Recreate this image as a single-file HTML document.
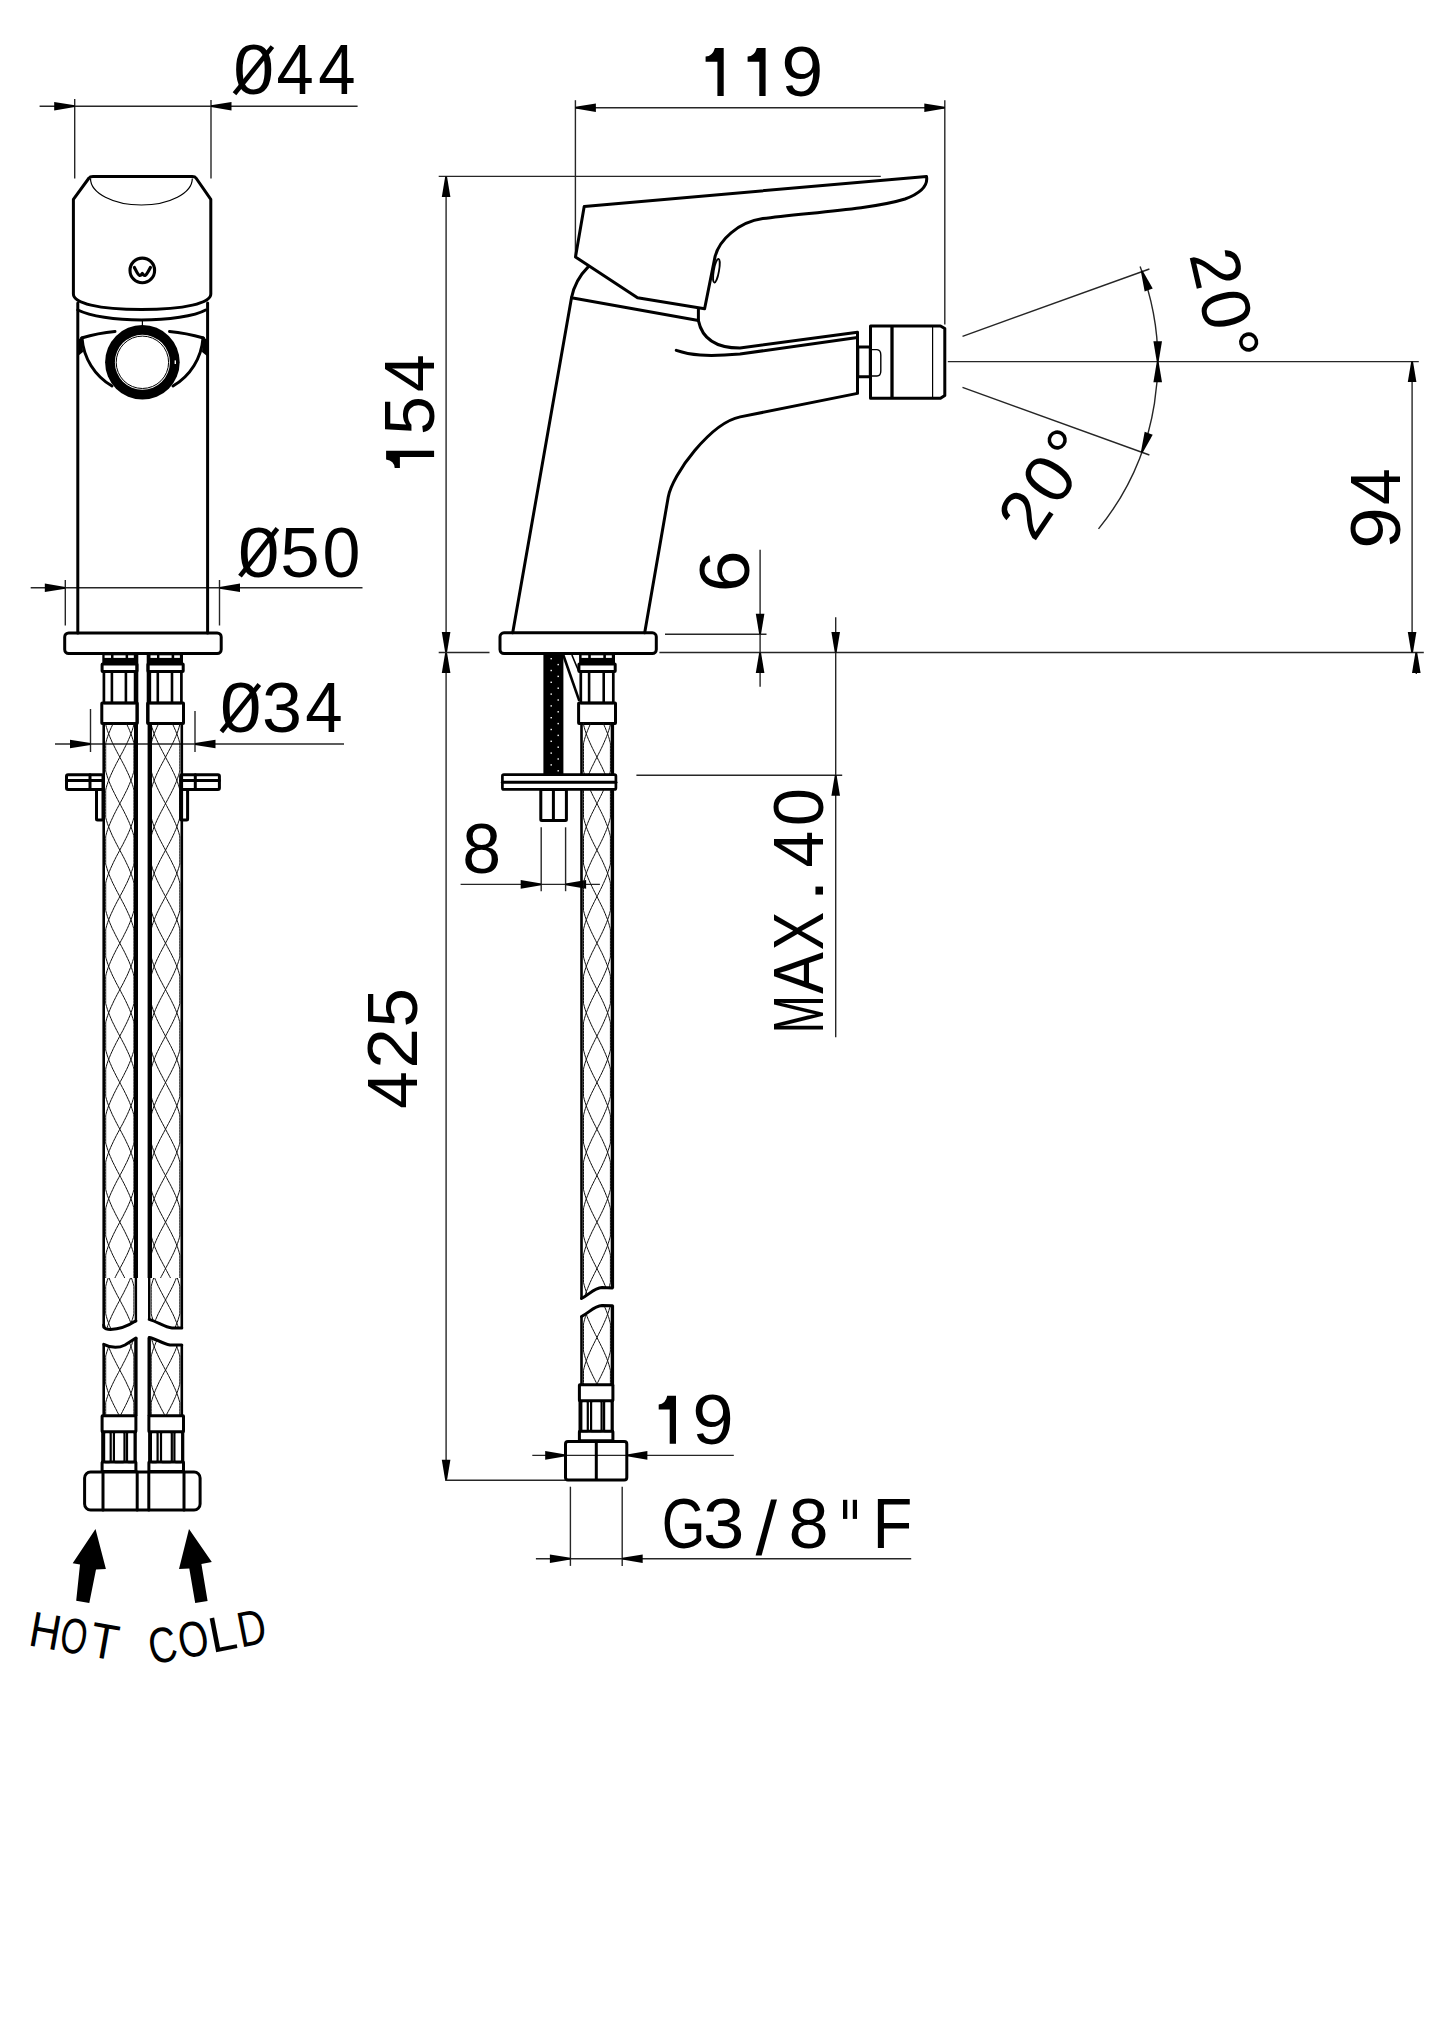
<!DOCTYPE html>
<html><head><meta charset="utf-8"><style>html,body{margin:0;padding:0;background:#fff;}svg{display:block;}</style></head>
<body><svg width="1445" height="2043" viewBox="0 0 1445 2043" style="font-family:'Liberation Sans',sans-serif">
<rect width="1445" height="2043" fill="#fff"/>
<line x1="74.7" y1="99.0" x2="74.7" y2="178.5" stroke="#262626" stroke-width="1.4" fill="none"/>
<line x1="211.0" y1="100.0" x2="211.0" y2="178.5" stroke="#262626" stroke-width="1.4" fill="none"/>
<line x1="39.6" y1="106.2" x2="357.6" y2="106.2" stroke="#262626" stroke-width="1.4" fill="none"/>
<path d="M74.70,107.10 L74.70,105.30 L54.20,101.90 L54.20,110.50 Z" fill="#000"/>
<path d="M211.00,105.30 L211.00,107.10 L231.50,110.50 L231.50,101.90 Z" fill="#000"/>
<line x1="65.3" y1="580.0" x2="65.3" y2="625.5" stroke="#262626" stroke-width="1.4" fill="none"/>
<line x1="219.5" y1="580.0" x2="219.5" y2="625.5" stroke="#262626" stroke-width="1.4" fill="none"/>
<line x1="30.7" y1="587.8" x2="362.5" y2="587.8" stroke="#262626" stroke-width="1.4" fill="none"/>
<path d="M65.30,588.70 L65.30,586.90 L44.80,583.50 L44.80,592.10 Z" fill="#000"/>
<path d="M219.50,586.90 L219.50,588.70 L240.00,592.10 L240.00,583.50 Z" fill="#000"/>
<line x1="90.5" y1="709.0" x2="90.5" y2="752.0" stroke="#262626" stroke-width="1.4" fill="none"/>
<line x1="195.0" y1="711.0" x2="195.0" y2="752.0" stroke="#262626" stroke-width="1.4" fill="none"/>
<line x1="55.0" y1="744.0" x2="344.0" y2="744.0" stroke="#262626" stroke-width="1.4" fill="none"/>
<path d="M90.50,744.90 L90.50,743.10 L70.00,739.70 L70.00,748.30 Z" fill="#000"/>
<path d="M195.00,743.10 L195.00,744.90 L215.50,748.30 L215.50,739.70 Z" fill="#000"/>
<path d="M93,176.5 L192.3,176.5 Q195,176.5 196,178 L210.8,199.4 L210.8,294 C210.8,303 185,309.5 141.4,309.5 C98,309.5 73.4,303 73.4,294 L73.4,199.4 L89,178 Q90,176.5 93,176.5 Z" stroke="#000" stroke-width="3.0" fill="none" stroke-linejoin="round" stroke-linecap="round"/>
<path d="M90.5,178.5 A50.9 26.5 0 0 0 192.3,178.5" stroke="#000" stroke-width="1.2" fill="none"/>
<circle cx="142.3" cy="270.4" r="12.3" stroke="#000" stroke-width="3.1" fill="none"/>
<path d="M134.4,267.4 C136,270.5 137.8,274.8 139.6,275.4 C141,275.8 141.8,274 142.3,273.4 C142.8,274 143.6,275.8 145,275.4 C146.8,274.8 148.8,270.5 150.4,267.4" stroke="#000" stroke-width="3.2" fill="none" stroke-linecap="round" stroke-linejoin="round"/>
<path d="M77.8,310 C90,316 115,320 141.4,320 C168,320 195,316 205.7,310" stroke="#000" stroke-width="3.0" fill="none" stroke-linejoin="round" stroke-linecap="round"/>
<line x1="77.8" y1="303.0" x2="77.8" y2="633.0" stroke="#000" stroke-width="3.0" fill="none" stroke-linejoin="round" stroke-linecap="round"/>
<line x1="207.6" y1="303.0" x2="207.6" y2="633.0" stroke="#000" stroke-width="3.0" fill="none" stroke-linejoin="round" stroke-linecap="round"/>
<path d="M81.6,338 Q98,333 115,331.5" stroke="#000" stroke-width="3.0" fill="none" stroke-linejoin="round" stroke-linecap="round"/>
<path d="M169.5,331.5 Q186,333 203.5,338" stroke="#000" stroke-width="3.0" fill="none" stroke-linejoin="round" stroke-linecap="round"/>
<path d="M82,338 A60.8 60.8 0 0 0 112,386" stroke="#000" stroke-width="3.0" fill="none" stroke-linejoin="round" stroke-linecap="round"/>
<path d="M203,338 A60.8 60.8 0 0 1 173,386" stroke="#000" stroke-width="3.0" fill="none" stroke-linejoin="round" stroke-linecap="round"/>
<path d="M78,339 L82,338 L83,352 L78,356 Z" fill="#000"/>
<path d="M207,339 L203,338 L202,352 L207,356 Z" fill="#000"/>
<circle cx="142.4" cy="362.3" r="37.3" fill="#000"/>
<circle cx="142.4" cy="362.3" r="27.5" fill="#fff"/>
<circle cx="142.4" cy="362.3" r="26.2" stroke="#000" stroke-width="1" fill="none"/>
<rect x="174.6" y="360.4" width="1.4" height="3.6" fill="#fff"/>
<line x1="142.4" y1="320.0" x2="142.4" y2="326.0" stroke="#000" stroke-width="1.2" fill="none"/>
<rect x="64.7" y="632.9" width="156.5" height="20.6" rx="4" stroke="#000" stroke-width="3.0" fill="none" stroke-linejoin="round" stroke-linecap="round"/>
<rect x="102.3" y="654.5" width="34.5" height="10" fill="#000"/>
<rect x="104.6" y="655.3" width="6.4" height="2.6" fill="#fff"/>
<rect x="113.5" y="655.3" width="12.1" height="2.6" fill="#fff"/>
<rect x="128.1" y="655.3" width="5.7" height="2.6" fill="#fff"/>
<rect x="102.1" y="664.0" width="34.9" height="7.5" rx="0.5" stroke="#000" stroke-width="3.0" fill="none" stroke-linejoin="round" stroke-linecap="round"/>
<rect x="103.9" y="671.7" width="31.2" height="31.3" rx="1.5" stroke="#000" stroke-width="2.7" fill="none"/>
<line x1="111.9" y1="671.7" x2="111.9" y2="703.0" stroke="#000" stroke-width="2.6"/>
<line x1="125.9" y1="671.7" x2="125.9" y2="703.0" stroke="#000" stroke-width="2.6"/>
<rect x="101.8" y="703.0" width="35.5" height="20.5" rx="0.5" stroke="#000" stroke-width="3.0" fill="none" stroke-linejoin="round" stroke-linecap="round"/>
<rect x="148.1" y="654.5" width="34.9" height="10" fill="#000"/>
<rect x="150.5" y="655.3" width="6.5" height="2.6" fill="#fff"/>
<rect x="159.4" y="655.3" width="12.2" height="2.6" fill="#fff"/>
<rect x="174.2" y="655.3" width="5.7" height="2.6" fill="#fff"/>
<rect x="147.9" y="664.0" width="35.3" height="7.5" rx="0.5" stroke="#000" stroke-width="3.0" fill="none" stroke-linejoin="round" stroke-linecap="round"/>
<rect x="149.8" y="671.7" width="31.6" height="31.3" rx="1.5" stroke="#000" stroke-width="2.7" fill="none"/>
<line x1="157.8" y1="671.7" x2="157.8" y2="703.0" stroke="#000" stroke-width="2.6"/>
<line x1="172.0" y1="671.7" x2="172.0" y2="703.0" stroke="#000" stroke-width="2.6"/>
<rect x="147.6" y="703.0" width="35.9" height="20.5" rx="0.5" stroke="#000" stroke-width="3.0" fill="none" stroke-linejoin="round" stroke-linecap="round"/>
<line x1="136.9" y1="655.0" x2="136.9" y2="723.5" stroke="#000" stroke-width="2.8"/>
<line x1="148.1" y1="655.0" x2="148.1" y2="723.5" stroke="#000" stroke-width="2.8"/>
<clipPath id="hcA"><path d="M100,720 L140,720 L140,1320.8 C128,1326 118,1330 108,1329.3 Q100,1329 100,1325 Z"/></clipPath>
<clipPath id="hcB"><path d="M146,720 L186,720 L186,1328 L172,1328 C165,1327.5 158,1322 146,1319.4 Z"/></clipPath>
<clipPath id="hcC"><path d="M100,1344.3 C110,1347.5 118,1348.5 125,1345 L140,1336 L140,1420 L100,1420 Z"/></clipPath>
<clipPath id="hcD"><path d="M146,1337.4 C155,1338 162,1344 170,1345 L186,1345 L186,1420 L146,1420 Z"/></clipPath>
<g clip-path="url(#hcA)">
<clipPath id="bk103_723"><rect x="98.7" y="723.5" width="42.2" height="554.5"/></clipPath>
<g clip-path="url(#bk103_723)">
<polyline points="105.7,721.5 105.7,723.0 105.7,724.5 106.1,726.0 106.5,727.5 107.0,729.0 107.4,730.5 108.0,732.0 108.5,733.5 109.1,735.0 109.7,736.5 110.3,738.0 111.0,739.5 111.6,741.0 112.3,742.5 113.0,744.0 113.8,745.5 114.5,747.0 115.3,748.5 116.0,750.0 116.8,751.5 117.6,753.0 118.4,754.5 119.2,756.0 120.0,757.5 120.8,759.0 121.6,760.5 122.4,762.0 123.2,763.5 124.0,765.0 124.7,766.5 125.5,768.0 126.2,769.5 126.9,771.0 127.6,772.5 128.3,774.0 129.0,775.5 129.6,777.0 130.2,778.5 130.8,780.0 131.4,781.5 131.9,783.0 132.4,784.5 132.9,786.0 133.3,787.5 133.7,789.0 133.9,790.5 133.9,792.0 133.9,793.5 133.9,795.0 133.9,796.5 133.9,798.0 133.9,799.5 133.9,801.0 133.9,802.5 133.9,804.0 133.9,805.5 133.9,807.0 133.9,808.5 133.9,810.0 133.9,811.5 133.9,813.0 133.9,814.5 133.9,816.0 133.9,817.5 133.5,819.0 133.1,820.5 132.6,822.0 132.2,823.5 131.6,825.0 131.1,826.5 130.5,828.0 129.9,829.5 129.3,831.0 128.6,832.5 128.0,834.0 127.3,835.5 126.6,837.0 125.8,838.5 125.1,840.0 124.3,841.5 123.6,843.0 122.8,844.5 122.0,846.0 121.2,847.5 120.4,849.0 119.6,850.5 118.8,852.0 118.0,853.5 117.2,855.0 116.4,856.5 115.6,858.0 114.9,859.5 114.1,861.0 113.4,862.5 112.7,864.0 112.0,865.5 111.3,867.0 110.6,868.5 110.0,870.0 109.4,871.5 108.8,873.0 108.2,874.5 107.7,876.0 107.2,877.5 106.7,879.0 106.3,880.5 105.9,882.0 105.7,883.5 105.7,885.0 105.7,886.5 105.7,888.0 105.7,889.5 105.7,891.0 105.7,892.5 105.7,894.0 105.7,895.5 105.7,897.0 105.7,898.5 105.7,900.0 105.7,901.5 105.7,903.0 105.7,904.5 105.7,906.0 105.7,907.5 105.7,909.0 105.7,910.5 106.1,912.0 106.5,913.5 107.0,915.0 107.4,916.5 108.0,918.0 108.5,919.5 109.1,921.0 109.7,922.5 110.3,924.0 111.0,925.5 111.6,927.0 112.3,928.5 113.0,930.0 113.8,931.5 114.5,933.0 115.3,934.5 116.0,936.0 116.8,937.5 117.6,939.0 118.4,940.5 119.2,942.0 120.0,943.5 120.8,945.0 121.6,946.5 122.4,948.0 123.2,949.5 124.0,951.0 124.7,952.5 125.5,954.0 126.2,955.5 126.9,957.0 127.6,958.5 128.3,960.0 129.0,961.5 129.6,963.0 130.2,964.5 130.8,966.0 131.4,967.5 131.9,969.0 132.4,970.5 132.9,972.0 133.3,973.5 133.7,975.0 133.9,976.5 133.9,978.0 133.9,979.5 133.9,981.0 133.9,982.5 133.9,984.0 133.9,985.5 133.9,987.0 133.9,988.5 133.9,990.0 133.9,991.5 133.9,993.0 133.9,994.5 133.9,996.0 133.9,997.5 133.9,999.0 133.9,1000.5 133.9,1002.0 133.9,1003.5 133.5,1005.0 133.1,1006.5 132.6,1008.0 132.2,1009.5 131.6,1011.0 131.1,1012.5 130.5,1014.0 129.9,1015.5 129.3,1017.0 128.6,1018.5 128.0,1020.0 127.3,1021.5 126.6,1023.0 125.8,1024.5 125.1,1026.0 124.3,1027.5 123.6,1029.0 122.8,1030.5 122.0,1032.0 121.2,1033.5 120.4,1035.0 119.6,1036.5 118.8,1038.0 118.0,1039.5 117.2,1041.0 116.4,1042.5 115.6,1044.0 114.9,1045.5 114.1,1047.0 113.4,1048.5 112.7,1050.0 112.0,1051.5 111.3,1053.0 110.6,1054.5 110.0,1056.0 109.4,1057.5 108.8,1059.0 108.2,1060.5 107.7,1062.0 107.2,1063.5 106.7,1065.0 106.3,1066.5 105.9,1068.0 105.7,1069.5 105.7,1071.0 105.7,1072.5 105.7,1074.0 105.7,1075.5 105.7,1077.0 105.7,1078.5 105.7,1080.0 105.7,1081.5 105.7,1083.0 105.7,1084.5 105.7,1086.0 105.7,1087.5 105.7,1089.0 105.7,1090.5 105.7,1092.0 105.7,1093.5 105.7,1095.0 105.7,1096.5 106.1,1098.0 106.5,1099.5 107.0,1101.0 107.4,1102.5 108.0,1104.0 108.5,1105.5 109.1,1107.0 109.7,1108.5 110.3,1110.0 111.0,1111.5 111.6,1113.0 112.3,1114.5 113.0,1116.0 113.8,1117.5 114.5,1119.0 115.3,1120.5 116.0,1122.0 116.8,1123.5 117.6,1125.0 118.4,1126.5 119.2,1128.0 120.0,1129.5 120.8,1131.0 121.6,1132.5 122.4,1134.0 123.2,1135.5 124.0,1137.0 124.7,1138.5 125.5,1140.0 126.2,1141.5 126.9,1143.0 127.6,1144.5 128.3,1146.0 129.0,1147.5 129.6,1149.0 130.2,1150.5 130.8,1152.0 131.4,1153.5 131.9,1155.0 132.4,1156.5 132.9,1158.0 133.3,1159.5 133.7,1161.0 133.9,1162.5 133.9,1164.0 133.9,1165.5 133.9,1167.0 133.9,1168.5 133.9,1170.0 133.9,1171.5 133.9,1173.0 133.9,1174.5 133.9,1176.0 133.9,1177.5 133.9,1179.0 133.9,1180.5 133.9,1182.0 133.9,1183.5 133.9,1185.0 133.9,1186.5 133.9,1188.0 133.9,1189.5 133.5,1191.0 133.1,1192.5 132.6,1194.0 132.2,1195.5 131.6,1197.0 131.1,1198.5 130.5,1200.0 129.9,1201.5 129.3,1203.0 128.6,1204.5 128.0,1206.0 127.3,1207.5 126.6,1209.0 125.8,1210.5 125.1,1212.0 124.3,1213.5 123.6,1215.0 122.8,1216.5 122.0,1218.0 121.2,1219.5 120.4,1221.0 119.6,1222.5 118.8,1224.0 118.0,1225.5 117.2,1227.0 116.4,1228.5 115.6,1230.0 114.9,1231.5 114.1,1233.0 113.4,1234.5 112.7,1236.0 112.0,1237.5 111.3,1239.0 110.6,1240.5 110.0,1242.0 109.4,1243.5 108.8,1245.0 108.2,1246.5 107.7,1248.0 107.2,1249.5 106.7,1251.0 106.3,1252.5 105.9,1254.0 105.7,1255.5 105.7,1257.0 105.7,1258.5 105.7,1260.0 105.7,1261.5 105.7,1263.0 105.7,1264.5 105.7,1266.0 105.7,1267.5 105.7,1269.0 105.7,1270.5 105.7,1272.0 105.7,1273.5 105.7,1275.0 105.7,1276.5 105.7,1278.0 105.7,1279.5" stroke="#111" stroke-width="1.0" fill="none"/>
<polyline points="125.5,721.5 126.2,723.0 126.9,724.5 127.6,726.0 128.3,727.5 129.0,729.0 129.6,730.5 130.2,732.0 130.8,733.5 131.4,735.0 131.9,736.5 132.4,738.0 132.9,739.5 133.3,741.0 133.7,742.5 133.9,744.0 133.9,745.5 133.9,747.0 133.9,748.5 133.9,750.0 133.9,751.5 133.9,753.0 133.9,754.5 133.9,756.0 133.9,757.5 133.9,759.0 133.9,760.5 133.9,762.0 133.9,763.5 133.9,765.0 133.9,766.5 133.9,768.0 133.9,769.5 133.9,771.0 133.5,772.5 133.1,774.0 132.6,775.5 132.2,777.0 131.6,778.5 131.1,780.0 130.5,781.5 129.9,783.0 129.3,784.5 128.6,786.0 128.0,787.5 127.3,789.0 126.6,790.5 125.8,792.0 125.1,793.5 124.3,795.0 123.6,796.5 122.8,798.0 122.0,799.5 121.2,801.0 120.4,802.5 119.6,804.0 118.8,805.5 118.0,807.0 117.2,808.5 116.4,810.0 115.6,811.5 114.9,813.0 114.1,814.5 113.4,816.0 112.7,817.5 112.0,819.0 111.3,820.5 110.6,822.0 110.0,823.5 109.4,825.0 108.8,826.5 108.2,828.0 107.7,829.5 107.2,831.0 106.7,832.5 106.3,834.0 105.9,835.5 105.7,837.0 105.7,838.5 105.7,840.0 105.7,841.5 105.7,843.0 105.7,844.5 105.7,846.0 105.7,847.5 105.7,849.0 105.7,850.5 105.7,852.0 105.7,853.5 105.7,855.0 105.7,856.5 105.7,858.0 105.7,859.5 105.7,861.0 105.7,862.5 105.7,864.0 106.1,865.5 106.5,867.0 107.0,868.5 107.4,870.0 108.0,871.5 108.5,873.0 109.1,874.5 109.7,876.0 110.3,877.5 111.0,879.0 111.6,880.5 112.3,882.0 113.0,883.5 113.8,885.0 114.5,886.5 115.3,888.0 116.0,889.5 116.8,891.0 117.6,892.5 118.4,894.0 119.2,895.5 120.0,897.0 120.8,898.5 121.6,900.0 122.4,901.5 123.2,903.0 124.0,904.5 124.7,906.0 125.5,907.5 126.2,909.0 126.9,910.5 127.6,912.0 128.3,913.5 129.0,915.0 129.6,916.5 130.2,918.0 130.8,919.5 131.4,921.0 131.9,922.5 132.4,924.0 132.9,925.5 133.3,927.0 133.7,928.5 133.9,930.0 133.9,931.5 133.9,933.0 133.9,934.5 133.9,936.0 133.9,937.5 133.9,939.0 133.9,940.5 133.9,942.0 133.9,943.5 133.9,945.0 133.9,946.5 133.9,948.0 133.9,949.5 133.9,951.0 133.9,952.5 133.9,954.0 133.9,955.5 133.9,957.0 133.5,958.5 133.1,960.0 132.6,961.5 132.2,963.0 131.6,964.5 131.1,966.0 130.5,967.5 129.9,969.0 129.3,970.5 128.6,972.0 128.0,973.5 127.3,975.0 126.6,976.5 125.8,978.0 125.1,979.5 124.3,981.0 123.6,982.5 122.8,984.0 122.0,985.5 121.2,987.0 120.4,988.5 119.6,990.0 118.8,991.5 118.0,993.0 117.2,994.5 116.4,996.0 115.6,997.5 114.9,999.0 114.1,1000.5 113.4,1002.0 112.7,1003.5 112.0,1005.0 111.3,1006.5 110.6,1008.0 110.0,1009.5 109.4,1011.0 108.8,1012.5 108.2,1014.0 107.7,1015.5 107.2,1017.0 106.7,1018.5 106.3,1020.0 105.9,1021.5 105.7,1023.0 105.7,1024.5 105.7,1026.0 105.7,1027.5 105.7,1029.0 105.7,1030.5 105.7,1032.0 105.7,1033.5 105.7,1035.0 105.7,1036.5 105.7,1038.0 105.7,1039.5 105.7,1041.0 105.7,1042.5 105.7,1044.0 105.7,1045.5 105.7,1047.0 105.7,1048.5 105.7,1050.0 106.1,1051.5 106.5,1053.0 107.0,1054.5 107.4,1056.0 108.0,1057.5 108.5,1059.0 109.1,1060.5 109.7,1062.0 110.3,1063.5 111.0,1065.0 111.6,1066.5 112.3,1068.0 113.0,1069.5 113.8,1071.0 114.5,1072.5 115.3,1074.0 116.0,1075.5 116.8,1077.0 117.6,1078.5 118.4,1080.0 119.2,1081.5 120.0,1083.0 120.8,1084.5 121.6,1086.0 122.4,1087.5 123.2,1089.0 124.0,1090.5 124.7,1092.0 125.5,1093.5 126.2,1095.0 126.9,1096.5 127.6,1098.0 128.3,1099.5 129.0,1101.0 129.6,1102.5 130.2,1104.0 130.8,1105.5 131.4,1107.0 131.9,1108.5 132.4,1110.0 132.9,1111.5 133.3,1113.0 133.7,1114.5 133.9,1116.0 133.9,1117.5 133.9,1119.0 133.9,1120.5 133.9,1122.0 133.9,1123.5 133.9,1125.0 133.9,1126.5 133.9,1128.0 133.9,1129.5 133.9,1131.0 133.9,1132.5 133.9,1134.0 133.9,1135.5 133.9,1137.0 133.9,1138.5 133.9,1140.0 133.9,1141.5 133.9,1143.0 133.5,1144.5 133.1,1146.0 132.6,1147.5 132.2,1149.0 131.6,1150.5 131.1,1152.0 130.5,1153.5 129.9,1155.0 129.3,1156.5 128.6,1158.0 128.0,1159.5 127.3,1161.0 126.6,1162.5 125.8,1164.0 125.1,1165.5 124.3,1167.0 123.6,1168.5 122.8,1170.0 122.0,1171.5 121.2,1173.0 120.4,1174.5 119.6,1176.0 118.8,1177.5 118.0,1179.0 117.2,1180.5 116.4,1182.0 115.6,1183.5 114.9,1185.0 114.1,1186.5 113.4,1188.0 112.7,1189.5 112.0,1191.0 111.3,1192.5 110.6,1194.0 110.0,1195.5 109.4,1197.0 108.8,1198.5 108.2,1200.0 107.7,1201.5 107.2,1203.0 106.7,1204.5 106.3,1206.0 105.9,1207.5 105.7,1209.0 105.7,1210.5 105.7,1212.0 105.7,1213.5 105.7,1215.0 105.7,1216.5 105.7,1218.0 105.7,1219.5 105.7,1221.0 105.7,1222.5 105.7,1224.0 105.7,1225.5 105.7,1227.0 105.7,1228.5 105.7,1230.0 105.7,1231.5 105.7,1233.0 105.7,1234.5 105.7,1236.0 106.1,1237.5 106.5,1239.0 107.0,1240.5 107.4,1242.0 108.0,1243.5 108.5,1245.0 109.1,1246.5 109.7,1248.0 110.3,1249.5 111.0,1251.0 111.6,1252.5 112.3,1254.0 113.0,1255.5 113.8,1257.0 114.5,1258.5 115.3,1260.0 116.0,1261.5 116.8,1263.0 117.6,1264.5 118.4,1266.0 119.2,1267.5 120.0,1269.0 120.8,1270.5 121.6,1272.0 122.4,1273.5 123.2,1275.0 124.0,1276.5 124.7,1278.0 125.5,1279.5" stroke="#111" stroke-width="1.0" fill="none"/>
<polyline points="133.9,721.5 133.9,723.0 133.9,724.5 133.5,726.0 133.1,727.5 132.6,729.0 132.2,730.5 131.6,732.0 131.1,733.5 130.5,735.0 129.9,736.5 129.3,738.0 128.6,739.5 128.0,741.0 127.3,742.5 126.6,744.0 125.8,745.5 125.1,747.0 124.3,748.5 123.6,750.0 122.8,751.5 122.0,753.0 121.2,754.5 120.4,756.0 119.6,757.5 118.8,759.0 118.0,760.5 117.2,762.0 116.4,763.5 115.6,765.0 114.9,766.5 114.1,768.0 113.4,769.5 112.7,771.0 112.0,772.5 111.3,774.0 110.6,775.5 110.0,777.0 109.4,778.5 108.8,780.0 108.2,781.5 107.7,783.0 107.2,784.5 106.7,786.0 106.3,787.5 105.9,789.0 105.7,790.5 105.7,792.0 105.7,793.5 105.7,795.0 105.7,796.5 105.7,798.0 105.7,799.5 105.7,801.0 105.7,802.5 105.7,804.0 105.7,805.5 105.7,807.0 105.7,808.5 105.7,810.0 105.7,811.5 105.7,813.0 105.7,814.5 105.7,816.0 105.7,817.5 106.1,819.0 106.5,820.5 107.0,822.0 107.4,823.5 108.0,825.0 108.5,826.5 109.1,828.0 109.7,829.5 110.3,831.0 111.0,832.5 111.6,834.0 112.3,835.5 113.0,837.0 113.8,838.5 114.5,840.0 115.3,841.5 116.0,843.0 116.8,844.5 117.6,846.0 118.4,847.5 119.2,849.0 120.0,850.5 120.8,852.0 121.6,853.5 122.4,855.0 123.2,856.5 124.0,858.0 124.7,859.5 125.5,861.0 126.2,862.5 126.9,864.0 127.6,865.5 128.3,867.0 129.0,868.5 129.6,870.0 130.2,871.5 130.8,873.0 131.4,874.5 131.9,876.0 132.4,877.5 132.9,879.0 133.3,880.5 133.7,882.0 133.9,883.5 133.9,885.0 133.9,886.5 133.9,888.0 133.9,889.5 133.9,891.0 133.9,892.5 133.9,894.0 133.9,895.5 133.9,897.0 133.9,898.5 133.9,900.0 133.9,901.5 133.9,903.0 133.9,904.5 133.9,906.0 133.9,907.5 133.9,909.0 133.9,910.5 133.5,912.0 133.1,913.5 132.6,915.0 132.2,916.5 131.6,918.0 131.1,919.5 130.5,921.0 129.9,922.5 129.3,924.0 128.6,925.5 128.0,927.0 127.3,928.5 126.6,930.0 125.8,931.5 125.1,933.0 124.3,934.5 123.6,936.0 122.8,937.5 122.0,939.0 121.2,940.5 120.4,942.0 119.6,943.5 118.8,945.0 118.0,946.5 117.2,948.0 116.4,949.5 115.6,951.0 114.9,952.5 114.1,954.0 113.4,955.5 112.7,957.0 112.0,958.5 111.3,960.0 110.6,961.5 110.0,963.0 109.4,964.5 108.8,966.0 108.2,967.5 107.7,969.0 107.2,970.5 106.7,972.0 106.3,973.5 105.9,975.0 105.7,976.5 105.7,978.0 105.7,979.5 105.7,981.0 105.7,982.5 105.7,984.0 105.7,985.5 105.7,987.0 105.7,988.5 105.7,990.0 105.7,991.5 105.7,993.0 105.7,994.5 105.7,996.0 105.7,997.5 105.7,999.0 105.7,1000.5 105.7,1002.0 105.7,1003.5 106.1,1005.0 106.5,1006.5 107.0,1008.0 107.4,1009.5 108.0,1011.0 108.5,1012.5 109.1,1014.0 109.7,1015.5 110.3,1017.0 111.0,1018.5 111.6,1020.0 112.3,1021.5 113.0,1023.0 113.8,1024.5 114.5,1026.0 115.3,1027.5 116.0,1029.0 116.8,1030.5 117.6,1032.0 118.4,1033.5 119.2,1035.0 120.0,1036.5 120.8,1038.0 121.6,1039.5 122.4,1041.0 123.2,1042.5 124.0,1044.0 124.7,1045.5 125.5,1047.0 126.2,1048.5 126.9,1050.0 127.6,1051.5 128.3,1053.0 129.0,1054.5 129.6,1056.0 130.2,1057.5 130.8,1059.0 131.4,1060.5 131.9,1062.0 132.4,1063.5 132.9,1065.0 133.3,1066.5 133.7,1068.0 133.9,1069.5 133.9,1071.0 133.9,1072.5 133.9,1074.0 133.9,1075.5 133.9,1077.0 133.9,1078.5 133.9,1080.0 133.9,1081.5 133.9,1083.0 133.9,1084.5 133.9,1086.0 133.9,1087.5 133.9,1089.0 133.9,1090.5 133.9,1092.0 133.9,1093.5 133.9,1095.0 133.9,1096.5 133.5,1098.0 133.1,1099.5 132.6,1101.0 132.2,1102.5 131.6,1104.0 131.1,1105.5 130.5,1107.0 129.9,1108.5 129.3,1110.0 128.6,1111.5 128.0,1113.0 127.3,1114.5 126.6,1116.0 125.8,1117.5 125.1,1119.0 124.3,1120.5 123.6,1122.0 122.8,1123.5 122.0,1125.0 121.2,1126.5 120.4,1128.0 119.6,1129.5 118.8,1131.0 118.0,1132.5 117.2,1134.0 116.4,1135.5 115.6,1137.0 114.9,1138.5 114.1,1140.0 113.4,1141.5 112.7,1143.0 112.0,1144.5 111.3,1146.0 110.6,1147.5 110.0,1149.0 109.4,1150.5 108.8,1152.0 108.2,1153.5 107.7,1155.0 107.2,1156.5 106.7,1158.0 106.3,1159.5 105.9,1161.0 105.7,1162.5 105.7,1164.0 105.7,1165.5 105.7,1167.0 105.7,1168.5 105.7,1170.0 105.7,1171.5 105.7,1173.0 105.7,1174.5 105.7,1176.0 105.7,1177.5 105.7,1179.0 105.7,1180.5 105.7,1182.0 105.7,1183.5 105.7,1185.0 105.7,1186.5 105.7,1188.0 105.7,1189.5 106.1,1191.0 106.5,1192.5 107.0,1194.0 107.4,1195.5 108.0,1197.0 108.5,1198.5 109.1,1200.0 109.7,1201.5 110.3,1203.0 111.0,1204.5 111.6,1206.0 112.3,1207.5 113.0,1209.0 113.8,1210.5 114.5,1212.0 115.3,1213.5 116.0,1215.0 116.8,1216.5 117.6,1218.0 118.4,1219.5 119.2,1221.0 120.0,1222.5 120.8,1224.0 121.6,1225.5 122.4,1227.0 123.2,1228.5 124.0,1230.0 124.7,1231.5 125.5,1233.0 126.2,1234.5 126.9,1236.0 127.6,1237.5 128.3,1239.0 129.0,1240.5 129.6,1242.0 130.2,1243.5 130.8,1245.0 131.4,1246.5 131.9,1248.0 132.4,1249.5 132.9,1251.0 133.3,1252.5 133.7,1254.0 133.9,1255.5 133.9,1257.0 133.9,1258.5 133.9,1260.0 133.9,1261.5 133.9,1263.0 133.9,1264.5 133.9,1266.0 133.9,1267.5 133.9,1269.0 133.9,1270.5 133.9,1272.0 133.9,1273.5 133.9,1275.0 133.9,1276.5 133.9,1278.0 133.9,1279.5" stroke="#111" stroke-width="1.0" fill="none"/>
<polyline points="114.1,721.5 113.4,723.0 112.7,724.5 112.0,726.0 111.3,727.5 110.6,729.0 110.0,730.5 109.4,732.0 108.8,733.5 108.2,735.0 107.7,736.5 107.2,738.0 106.7,739.5 106.3,741.0 105.9,742.5 105.7,744.0 105.7,745.5 105.7,747.0 105.7,748.5 105.7,750.0 105.7,751.5 105.7,753.0 105.7,754.5 105.7,756.0 105.7,757.5 105.7,759.0 105.7,760.5 105.7,762.0 105.7,763.5 105.7,765.0 105.7,766.5 105.7,768.0 105.7,769.5 105.7,771.0 106.1,772.5 106.5,774.0 107.0,775.5 107.4,777.0 108.0,778.5 108.5,780.0 109.1,781.5 109.7,783.0 110.3,784.5 111.0,786.0 111.6,787.5 112.3,789.0 113.0,790.5 113.8,792.0 114.5,793.5 115.3,795.0 116.0,796.5 116.8,798.0 117.6,799.5 118.4,801.0 119.2,802.5 120.0,804.0 120.8,805.5 121.6,807.0 122.4,808.5 123.2,810.0 124.0,811.5 124.7,813.0 125.5,814.5 126.2,816.0 126.9,817.5 127.6,819.0 128.3,820.5 129.0,822.0 129.6,823.5 130.2,825.0 130.8,826.5 131.4,828.0 131.9,829.5 132.4,831.0 132.9,832.5 133.3,834.0 133.7,835.5 133.9,837.0 133.9,838.5 133.9,840.0 133.9,841.5 133.9,843.0 133.9,844.5 133.9,846.0 133.9,847.5 133.9,849.0 133.9,850.5 133.9,852.0 133.9,853.5 133.9,855.0 133.9,856.5 133.9,858.0 133.9,859.5 133.9,861.0 133.9,862.5 133.9,864.0 133.5,865.5 133.1,867.0 132.6,868.5 132.2,870.0 131.6,871.5 131.1,873.0 130.5,874.5 129.9,876.0 129.3,877.5 128.6,879.0 128.0,880.5 127.3,882.0 126.6,883.5 125.8,885.0 125.1,886.5 124.3,888.0 123.6,889.5 122.8,891.0 122.0,892.5 121.2,894.0 120.4,895.5 119.6,897.0 118.8,898.5 118.0,900.0 117.2,901.5 116.4,903.0 115.6,904.5 114.9,906.0 114.1,907.5 113.4,909.0 112.7,910.5 112.0,912.0 111.3,913.5 110.6,915.0 110.0,916.5 109.4,918.0 108.8,919.5 108.2,921.0 107.7,922.5 107.2,924.0 106.7,925.5 106.3,927.0 105.9,928.5 105.7,930.0 105.7,931.5 105.7,933.0 105.7,934.5 105.7,936.0 105.7,937.5 105.7,939.0 105.7,940.5 105.7,942.0 105.7,943.5 105.7,945.0 105.7,946.5 105.7,948.0 105.7,949.5 105.7,951.0 105.7,952.5 105.7,954.0 105.7,955.5 105.7,957.0 106.1,958.5 106.5,960.0 107.0,961.5 107.4,963.0 108.0,964.5 108.5,966.0 109.1,967.5 109.7,969.0 110.3,970.5 111.0,972.0 111.6,973.5 112.3,975.0 113.0,976.5 113.8,978.0 114.5,979.5 115.3,981.0 116.0,982.5 116.8,984.0 117.6,985.5 118.4,987.0 119.2,988.5 120.0,990.0 120.8,991.5 121.6,993.0 122.4,994.5 123.2,996.0 124.0,997.5 124.7,999.0 125.5,1000.5 126.2,1002.0 126.9,1003.5 127.6,1005.0 128.3,1006.5 129.0,1008.0 129.6,1009.5 130.2,1011.0 130.8,1012.5 131.4,1014.0 131.9,1015.5 132.4,1017.0 132.9,1018.5 133.3,1020.0 133.7,1021.5 133.9,1023.0 133.9,1024.5 133.9,1026.0 133.9,1027.5 133.9,1029.0 133.9,1030.5 133.9,1032.0 133.9,1033.5 133.9,1035.0 133.9,1036.5 133.9,1038.0 133.9,1039.5 133.9,1041.0 133.9,1042.5 133.9,1044.0 133.9,1045.5 133.9,1047.0 133.9,1048.5 133.9,1050.0 133.5,1051.5 133.1,1053.0 132.6,1054.5 132.2,1056.0 131.6,1057.5 131.1,1059.0 130.5,1060.5 129.9,1062.0 129.3,1063.5 128.6,1065.0 128.0,1066.5 127.3,1068.0 126.6,1069.5 125.8,1071.0 125.1,1072.5 124.3,1074.0 123.6,1075.5 122.8,1077.0 122.0,1078.5 121.2,1080.0 120.4,1081.5 119.6,1083.0 118.8,1084.5 118.0,1086.0 117.2,1087.5 116.4,1089.0 115.6,1090.5 114.9,1092.0 114.1,1093.5 113.4,1095.0 112.7,1096.5 112.0,1098.0 111.3,1099.5 110.6,1101.0 110.0,1102.5 109.4,1104.0 108.8,1105.5 108.2,1107.0 107.7,1108.5 107.2,1110.0 106.7,1111.5 106.3,1113.0 105.9,1114.5 105.7,1116.0 105.7,1117.5 105.7,1119.0 105.7,1120.5 105.7,1122.0 105.7,1123.5 105.7,1125.0 105.7,1126.5 105.7,1128.0 105.7,1129.5 105.7,1131.0 105.7,1132.5 105.7,1134.0 105.7,1135.5 105.7,1137.0 105.7,1138.5 105.7,1140.0 105.7,1141.5 105.7,1143.0 106.1,1144.5 106.5,1146.0 107.0,1147.5 107.4,1149.0 108.0,1150.5 108.5,1152.0 109.1,1153.5 109.7,1155.0 110.3,1156.5 111.0,1158.0 111.6,1159.5 112.3,1161.0 113.0,1162.5 113.8,1164.0 114.5,1165.5 115.3,1167.0 116.0,1168.5 116.8,1170.0 117.6,1171.5 118.4,1173.0 119.2,1174.5 120.0,1176.0 120.8,1177.5 121.6,1179.0 122.4,1180.5 123.2,1182.0 124.0,1183.5 124.7,1185.0 125.5,1186.5 126.2,1188.0 126.9,1189.5 127.6,1191.0 128.3,1192.5 129.0,1194.0 129.6,1195.5 130.2,1197.0 130.8,1198.5 131.4,1200.0 131.9,1201.5 132.4,1203.0 132.9,1204.5 133.3,1206.0 133.7,1207.5 133.9,1209.0 133.9,1210.5 133.9,1212.0 133.9,1213.5 133.9,1215.0 133.9,1216.5 133.9,1218.0 133.9,1219.5 133.9,1221.0 133.9,1222.5 133.9,1224.0 133.9,1225.5 133.9,1227.0 133.9,1228.5 133.9,1230.0 133.9,1231.5 133.9,1233.0 133.9,1234.5 133.9,1236.0 133.5,1237.5 133.1,1239.0 132.6,1240.5 132.2,1242.0 131.6,1243.5 131.1,1245.0 130.5,1246.5 129.9,1248.0 129.3,1249.5 128.6,1251.0 128.0,1252.5 127.3,1254.0 126.6,1255.5 125.8,1257.0 125.1,1258.5 124.3,1260.0 123.6,1261.5 122.8,1263.0 122.0,1264.5 121.2,1266.0 120.4,1267.5 119.6,1269.0 118.8,1270.5 118.0,1272.0 117.2,1273.5 116.4,1275.0 115.6,1276.5 114.9,1278.0 114.1,1279.5" stroke="#111" stroke-width="1.0" fill="none"/>
</g>
<clipPath id="bk103_1278"><rect x="98.7" y="1278" width="42.2" height="57"/></clipPath>
<g clip-path="url(#bk103_1278)">
<polyline points="108.4,1276.0 108.9,1277.5 109.5,1279.0 110.1,1280.5 110.8,1282.0 111.4,1283.5 112.1,1285.0 112.8,1286.5 113.6,1288.0 114.3,1289.5 115.1,1291.0 115.8,1292.5 116.6,1294.0 117.4,1295.5 118.2,1297.0 119.0,1298.5 119.8,1300.0 120.6,1301.5 121.4,1303.0 122.2,1304.5 123.0,1306.0 123.8,1307.5 124.5,1309.0 125.3,1310.5 126.0,1312.0 126.8,1313.5 127.5,1315.0 128.2,1316.5 128.8,1318.0 129.5,1319.5 130.1,1321.0 130.7,1322.5 131.2,1324.0 131.8,1325.5 132.3,1327.0 132.8,1328.5 133.2,1330.0 133.6,1331.5 133.9,1333.0 133.9,1334.5 133.9,1336.0" stroke="#111" stroke-width="1.0" fill="none"/>
<polyline points="130.7,1276.0 131.2,1277.5 131.8,1279.0 132.3,1280.5 132.8,1282.0 133.2,1283.5 133.6,1285.0 133.9,1286.5 133.9,1288.0 133.9,1289.5 133.9,1291.0 133.9,1292.5 133.9,1294.0 133.9,1295.5 133.9,1297.0 133.9,1298.5 133.9,1300.0 133.9,1301.5 133.9,1303.0 133.9,1304.5 133.9,1306.0 133.9,1307.5 133.9,1309.0 133.9,1310.5 133.9,1312.0 133.9,1313.5 133.6,1315.0 133.2,1316.5 132.8,1318.0 132.3,1319.5 131.8,1321.0 131.2,1322.5 130.7,1324.0 130.1,1325.5 129.5,1327.0 128.8,1328.5 128.2,1330.0 127.5,1331.5 126.8,1333.0 126.0,1334.5 125.3,1336.0" stroke="#111" stroke-width="1.0" fill="none"/>
<polyline points="131.2,1276.0 130.7,1277.5 130.1,1279.0 129.5,1280.5 128.8,1282.0 128.2,1283.5 127.5,1285.0 126.8,1286.5 126.0,1288.0 125.3,1289.5 124.5,1291.0 123.8,1292.5 123.0,1294.0 122.2,1295.5 121.4,1297.0 120.6,1298.5 119.8,1300.0 119.0,1301.5 118.2,1303.0 117.4,1304.5 116.6,1306.0 115.8,1307.5 115.1,1309.0 114.3,1310.5 113.6,1312.0 112.8,1313.5 112.1,1315.0 111.4,1316.5 110.8,1318.0 110.1,1319.5 109.5,1321.0 108.9,1322.5 108.4,1324.0 107.8,1325.5 107.3,1327.0 106.8,1328.5 106.4,1330.0 106.0,1331.5 105.7,1333.0 105.7,1334.5 105.7,1336.0" stroke="#111" stroke-width="1.0" fill="none"/>
<polyline points="108.9,1276.0 108.4,1277.5 107.8,1279.0 107.3,1280.5 106.8,1282.0 106.4,1283.5 106.0,1285.0 105.7,1286.5 105.7,1288.0 105.7,1289.5 105.7,1291.0 105.7,1292.5 105.7,1294.0 105.7,1295.5 105.7,1297.0 105.7,1298.5 105.7,1300.0 105.7,1301.5 105.7,1303.0 105.7,1304.5 105.7,1306.0 105.7,1307.5 105.7,1309.0 105.7,1310.5 105.7,1312.0 105.7,1313.5 106.0,1315.0 106.4,1316.5 106.8,1318.0 107.3,1319.5 107.8,1321.0 108.4,1322.5 108.9,1324.0 109.5,1325.5 110.1,1327.0 110.8,1328.5 111.4,1330.0 112.1,1331.5 112.8,1333.0 113.6,1334.5 114.3,1336.0" stroke="#111" stroke-width="1.0" fill="none"/>
</g>
<line x1="103.7" y1="723.5" x2="103.7" y2="1335.0" stroke="#000" stroke-width="2.6"/>
<line x1="135.9" y1="723.5" x2="135.9" y2="1335.0" stroke="#000" stroke-width="2.4"/>
<line x1="136.0" y1="723.5" x2="136.0" y2="1278.0" stroke="#000" stroke-width="4"/>
</g>
<g clip-path="url(#hcB)">
<clipPath id="bk149_723"><rect x="144.2" y="723.5" width="42.60000000000002" height="554.5"/></clipPath>
<g clip-path="url(#bk149_723)">
<polyline points="151.2,721.5 151.2,723.0 151.2,724.5 151.6,726.0 152.0,727.5 152.5,729.0 153.0,730.5 153.5,732.0 154.0,733.5 154.6,735.0 155.2,736.5 155.9,738.0 156.5,739.5 157.2,741.0 157.9,742.5 158.6,744.0 159.4,745.5 160.1,747.0 160.9,748.5 161.7,750.0 162.5,751.5 163.3,753.0 164.1,754.5 164.9,756.0 165.7,757.5 166.5,759.0 167.3,760.5 168.1,762.0 168.9,763.5 169.7,765.0 170.5,766.5 171.3,768.0 172.0,769.5 172.7,771.0 173.5,772.5 174.2,774.0 174.8,775.5 175.5,777.0 176.1,778.5 176.7,780.0 177.3,781.5 177.8,783.0 178.3,784.5 178.8,786.0 179.2,787.5 179.6,789.0 179.8,790.5 179.8,792.0 179.8,793.5 179.8,795.0 179.8,796.5 179.8,798.0 179.8,799.5 179.8,801.0 179.8,802.5 179.8,804.0 179.8,805.5 179.8,807.0 179.8,808.5 179.8,810.0 179.8,811.5 179.8,813.0 179.8,814.5 179.8,816.0 179.8,817.5 179.4,819.0 179.0,820.5 178.5,822.0 178.0,823.5 177.5,825.0 177.0,826.5 176.4,828.0 175.8,829.5 175.1,831.0 174.5,832.5 173.8,834.0 173.1,835.5 172.4,837.0 171.6,838.5 170.9,840.0 170.1,841.5 169.3,843.0 168.5,844.5 167.7,846.0 166.9,847.5 166.1,849.0 165.3,850.5 164.5,852.0 163.7,853.5 162.9,855.0 162.1,856.5 161.3,858.0 160.5,859.5 159.7,861.0 159.0,862.5 158.3,864.0 157.5,865.5 156.8,867.0 156.2,868.5 155.5,870.0 154.9,871.5 154.3,873.0 153.7,874.5 153.2,876.0 152.7,877.5 152.2,879.0 151.8,880.5 151.4,882.0 151.2,883.5 151.2,885.0 151.2,886.5 151.2,888.0 151.2,889.5 151.2,891.0 151.2,892.5 151.2,894.0 151.2,895.5 151.2,897.0 151.2,898.5 151.2,900.0 151.2,901.5 151.2,903.0 151.2,904.5 151.2,906.0 151.2,907.5 151.2,909.0 151.2,910.5 151.6,912.0 152.0,913.5 152.5,915.0 153.0,916.5 153.5,918.0 154.0,919.5 154.6,921.0 155.2,922.5 155.9,924.0 156.5,925.5 157.2,927.0 157.9,928.5 158.6,930.0 159.4,931.5 160.1,933.0 160.9,934.5 161.7,936.0 162.5,937.5 163.3,939.0 164.1,940.5 164.9,942.0 165.7,943.5 166.5,945.0 167.3,946.5 168.1,948.0 168.9,949.5 169.7,951.0 170.5,952.5 171.3,954.0 172.0,955.5 172.7,957.0 173.5,958.5 174.2,960.0 174.8,961.5 175.5,963.0 176.1,964.5 176.7,966.0 177.3,967.5 177.8,969.0 178.3,970.5 178.8,972.0 179.2,973.5 179.6,975.0 179.8,976.5 179.8,978.0 179.8,979.5 179.8,981.0 179.8,982.5 179.8,984.0 179.8,985.5 179.8,987.0 179.8,988.5 179.8,990.0 179.8,991.5 179.8,993.0 179.8,994.5 179.8,996.0 179.8,997.5 179.8,999.0 179.8,1000.5 179.8,1002.0 179.8,1003.5 179.4,1005.0 179.0,1006.5 178.5,1008.0 178.0,1009.5 177.5,1011.0 177.0,1012.5 176.4,1014.0 175.8,1015.5 175.1,1017.0 174.5,1018.5 173.8,1020.0 173.1,1021.5 172.4,1023.0 171.6,1024.5 170.9,1026.0 170.1,1027.5 169.3,1029.0 168.5,1030.5 167.7,1032.0 166.9,1033.5 166.1,1035.0 165.3,1036.5 164.5,1038.0 163.7,1039.5 162.9,1041.0 162.1,1042.5 161.3,1044.0 160.5,1045.5 159.7,1047.0 159.0,1048.5 158.3,1050.0 157.5,1051.5 156.8,1053.0 156.2,1054.5 155.5,1056.0 154.9,1057.5 154.3,1059.0 153.7,1060.5 153.2,1062.0 152.7,1063.5 152.2,1065.0 151.8,1066.5 151.4,1068.0 151.2,1069.5 151.2,1071.0 151.2,1072.5 151.2,1074.0 151.2,1075.5 151.2,1077.0 151.2,1078.5 151.2,1080.0 151.2,1081.5 151.2,1083.0 151.2,1084.5 151.2,1086.0 151.2,1087.5 151.2,1089.0 151.2,1090.5 151.2,1092.0 151.2,1093.5 151.2,1095.0 151.2,1096.5 151.6,1098.0 152.0,1099.5 152.5,1101.0 153.0,1102.5 153.5,1104.0 154.0,1105.5 154.6,1107.0 155.2,1108.5 155.9,1110.0 156.5,1111.5 157.2,1113.0 157.9,1114.5 158.6,1116.0 159.4,1117.5 160.1,1119.0 160.9,1120.5 161.7,1122.0 162.5,1123.5 163.3,1125.0 164.1,1126.5 164.9,1128.0 165.7,1129.5 166.5,1131.0 167.3,1132.5 168.1,1134.0 168.9,1135.5 169.7,1137.0 170.5,1138.5 171.3,1140.0 172.0,1141.5 172.7,1143.0 173.5,1144.5 174.2,1146.0 174.8,1147.5 175.5,1149.0 176.1,1150.5 176.7,1152.0 177.3,1153.5 177.8,1155.0 178.3,1156.5 178.8,1158.0 179.2,1159.5 179.6,1161.0 179.8,1162.5 179.8,1164.0 179.8,1165.5 179.8,1167.0 179.8,1168.5 179.8,1170.0 179.8,1171.5 179.8,1173.0 179.8,1174.5 179.8,1176.0 179.8,1177.5 179.8,1179.0 179.8,1180.5 179.8,1182.0 179.8,1183.5 179.8,1185.0 179.8,1186.5 179.8,1188.0 179.8,1189.5 179.4,1191.0 179.0,1192.5 178.5,1194.0 178.0,1195.5 177.5,1197.0 177.0,1198.5 176.4,1200.0 175.8,1201.5 175.1,1203.0 174.5,1204.5 173.8,1206.0 173.1,1207.5 172.4,1209.0 171.6,1210.5 170.9,1212.0 170.1,1213.5 169.3,1215.0 168.5,1216.5 167.7,1218.0 166.9,1219.5 166.1,1221.0 165.3,1222.5 164.5,1224.0 163.7,1225.5 162.9,1227.0 162.1,1228.5 161.3,1230.0 160.5,1231.5 159.7,1233.0 159.0,1234.5 158.3,1236.0 157.5,1237.5 156.8,1239.0 156.2,1240.5 155.5,1242.0 154.9,1243.5 154.3,1245.0 153.7,1246.5 153.2,1248.0 152.7,1249.5 152.2,1251.0 151.8,1252.5 151.4,1254.0 151.2,1255.5 151.2,1257.0 151.2,1258.5 151.2,1260.0 151.2,1261.5 151.2,1263.0 151.2,1264.5 151.2,1266.0 151.2,1267.5 151.2,1269.0 151.2,1270.5 151.2,1272.0 151.2,1273.5 151.2,1275.0 151.2,1276.5 151.2,1278.0 151.2,1279.5" stroke="#111" stroke-width="1.0" fill="none"/>
<polyline points="171.3,721.5 172.0,723.0 172.7,724.5 173.5,726.0 174.2,727.5 174.8,729.0 175.5,730.5 176.1,732.0 176.7,733.5 177.3,735.0 177.8,736.5 178.3,738.0 178.8,739.5 179.2,741.0 179.6,742.5 179.8,744.0 179.8,745.5 179.8,747.0 179.8,748.5 179.8,750.0 179.8,751.5 179.8,753.0 179.8,754.5 179.8,756.0 179.8,757.5 179.8,759.0 179.8,760.5 179.8,762.0 179.8,763.5 179.8,765.0 179.8,766.5 179.8,768.0 179.8,769.5 179.8,771.0 179.4,772.5 179.0,774.0 178.5,775.5 178.0,777.0 177.5,778.5 177.0,780.0 176.4,781.5 175.8,783.0 175.1,784.5 174.5,786.0 173.8,787.5 173.1,789.0 172.4,790.5 171.6,792.0 170.9,793.5 170.1,795.0 169.3,796.5 168.5,798.0 167.7,799.5 166.9,801.0 166.1,802.5 165.3,804.0 164.5,805.5 163.7,807.0 162.9,808.5 162.1,810.0 161.3,811.5 160.5,813.0 159.7,814.5 159.0,816.0 158.3,817.5 157.5,819.0 156.8,820.5 156.2,822.0 155.5,823.5 154.9,825.0 154.3,826.5 153.7,828.0 153.2,829.5 152.7,831.0 152.2,832.5 151.8,834.0 151.4,835.5 151.2,837.0 151.2,838.5 151.2,840.0 151.2,841.5 151.2,843.0 151.2,844.5 151.2,846.0 151.2,847.5 151.2,849.0 151.2,850.5 151.2,852.0 151.2,853.5 151.2,855.0 151.2,856.5 151.2,858.0 151.2,859.5 151.2,861.0 151.2,862.5 151.2,864.0 151.6,865.5 152.0,867.0 152.5,868.5 153.0,870.0 153.5,871.5 154.0,873.0 154.6,874.5 155.2,876.0 155.9,877.5 156.5,879.0 157.2,880.5 157.9,882.0 158.6,883.5 159.4,885.0 160.1,886.5 160.9,888.0 161.7,889.5 162.5,891.0 163.3,892.5 164.1,894.0 164.9,895.5 165.7,897.0 166.5,898.5 167.3,900.0 168.1,901.5 168.9,903.0 169.7,904.5 170.5,906.0 171.3,907.5 172.0,909.0 172.7,910.5 173.5,912.0 174.2,913.5 174.8,915.0 175.5,916.5 176.1,918.0 176.7,919.5 177.3,921.0 177.8,922.5 178.3,924.0 178.8,925.5 179.2,927.0 179.6,928.5 179.8,930.0 179.8,931.5 179.8,933.0 179.8,934.5 179.8,936.0 179.8,937.5 179.8,939.0 179.8,940.5 179.8,942.0 179.8,943.5 179.8,945.0 179.8,946.5 179.8,948.0 179.8,949.5 179.8,951.0 179.8,952.5 179.8,954.0 179.8,955.5 179.8,957.0 179.4,958.5 179.0,960.0 178.5,961.5 178.0,963.0 177.5,964.5 177.0,966.0 176.4,967.5 175.8,969.0 175.1,970.5 174.5,972.0 173.8,973.5 173.1,975.0 172.4,976.5 171.6,978.0 170.9,979.5 170.1,981.0 169.3,982.5 168.5,984.0 167.7,985.5 166.9,987.0 166.1,988.5 165.3,990.0 164.5,991.5 163.7,993.0 162.9,994.5 162.1,996.0 161.3,997.5 160.5,999.0 159.7,1000.5 159.0,1002.0 158.3,1003.5 157.5,1005.0 156.8,1006.5 156.2,1008.0 155.5,1009.5 154.9,1011.0 154.3,1012.5 153.7,1014.0 153.2,1015.5 152.7,1017.0 152.2,1018.5 151.8,1020.0 151.4,1021.5 151.2,1023.0 151.2,1024.5 151.2,1026.0 151.2,1027.5 151.2,1029.0 151.2,1030.5 151.2,1032.0 151.2,1033.5 151.2,1035.0 151.2,1036.5 151.2,1038.0 151.2,1039.5 151.2,1041.0 151.2,1042.5 151.2,1044.0 151.2,1045.5 151.2,1047.0 151.2,1048.5 151.2,1050.0 151.6,1051.5 152.0,1053.0 152.5,1054.5 153.0,1056.0 153.5,1057.5 154.0,1059.0 154.6,1060.5 155.2,1062.0 155.9,1063.5 156.5,1065.0 157.2,1066.5 157.9,1068.0 158.6,1069.5 159.4,1071.0 160.1,1072.5 160.9,1074.0 161.7,1075.5 162.5,1077.0 163.3,1078.5 164.1,1080.0 164.9,1081.5 165.7,1083.0 166.5,1084.5 167.3,1086.0 168.1,1087.5 168.9,1089.0 169.7,1090.5 170.5,1092.0 171.3,1093.5 172.0,1095.0 172.7,1096.5 173.5,1098.0 174.2,1099.5 174.8,1101.0 175.5,1102.5 176.1,1104.0 176.7,1105.5 177.3,1107.0 177.8,1108.5 178.3,1110.0 178.8,1111.5 179.2,1113.0 179.6,1114.5 179.8,1116.0 179.8,1117.5 179.8,1119.0 179.8,1120.5 179.8,1122.0 179.8,1123.5 179.8,1125.0 179.8,1126.5 179.8,1128.0 179.8,1129.5 179.8,1131.0 179.8,1132.5 179.8,1134.0 179.8,1135.5 179.8,1137.0 179.8,1138.5 179.8,1140.0 179.8,1141.5 179.8,1143.0 179.4,1144.5 179.0,1146.0 178.5,1147.5 178.0,1149.0 177.5,1150.5 177.0,1152.0 176.4,1153.5 175.8,1155.0 175.1,1156.5 174.5,1158.0 173.8,1159.5 173.1,1161.0 172.4,1162.5 171.6,1164.0 170.9,1165.5 170.1,1167.0 169.3,1168.5 168.5,1170.0 167.7,1171.5 166.9,1173.0 166.1,1174.5 165.3,1176.0 164.5,1177.5 163.7,1179.0 162.9,1180.5 162.1,1182.0 161.3,1183.5 160.5,1185.0 159.7,1186.5 159.0,1188.0 158.3,1189.5 157.5,1191.0 156.8,1192.5 156.2,1194.0 155.5,1195.5 154.9,1197.0 154.3,1198.5 153.7,1200.0 153.2,1201.5 152.7,1203.0 152.2,1204.5 151.8,1206.0 151.4,1207.5 151.2,1209.0 151.2,1210.5 151.2,1212.0 151.2,1213.5 151.2,1215.0 151.2,1216.5 151.2,1218.0 151.2,1219.5 151.2,1221.0 151.2,1222.5 151.2,1224.0 151.2,1225.5 151.2,1227.0 151.2,1228.5 151.2,1230.0 151.2,1231.5 151.2,1233.0 151.2,1234.5 151.2,1236.0 151.6,1237.5 152.0,1239.0 152.5,1240.5 153.0,1242.0 153.5,1243.5 154.0,1245.0 154.6,1246.5 155.2,1248.0 155.9,1249.5 156.5,1251.0 157.2,1252.5 157.9,1254.0 158.6,1255.5 159.4,1257.0 160.1,1258.5 160.9,1260.0 161.7,1261.5 162.5,1263.0 163.3,1264.5 164.1,1266.0 164.9,1267.5 165.7,1269.0 166.5,1270.5 167.3,1272.0 168.1,1273.5 168.9,1275.0 169.7,1276.5 170.5,1278.0 171.3,1279.5" stroke="#111" stroke-width="1.0" fill="none"/>
<polyline points="179.8,721.5 179.8,723.0 179.8,724.5 179.4,726.0 179.0,727.5 178.5,729.0 178.0,730.5 177.5,732.0 177.0,733.5 176.4,735.0 175.8,736.5 175.1,738.0 174.5,739.5 173.8,741.0 173.1,742.5 172.4,744.0 171.6,745.5 170.9,747.0 170.1,748.5 169.3,750.0 168.5,751.5 167.7,753.0 166.9,754.5 166.1,756.0 165.3,757.5 164.5,759.0 163.7,760.5 162.9,762.0 162.1,763.5 161.3,765.0 160.5,766.5 159.7,768.0 159.0,769.5 158.3,771.0 157.5,772.5 156.8,774.0 156.2,775.5 155.5,777.0 154.9,778.5 154.3,780.0 153.7,781.5 153.2,783.0 152.7,784.5 152.2,786.0 151.8,787.5 151.4,789.0 151.2,790.5 151.2,792.0 151.2,793.5 151.2,795.0 151.2,796.5 151.2,798.0 151.2,799.5 151.2,801.0 151.2,802.5 151.2,804.0 151.2,805.5 151.2,807.0 151.2,808.5 151.2,810.0 151.2,811.5 151.2,813.0 151.2,814.5 151.2,816.0 151.2,817.5 151.6,819.0 152.0,820.5 152.5,822.0 153.0,823.5 153.5,825.0 154.0,826.5 154.6,828.0 155.2,829.5 155.9,831.0 156.5,832.5 157.2,834.0 157.9,835.5 158.6,837.0 159.4,838.5 160.1,840.0 160.9,841.5 161.7,843.0 162.5,844.5 163.3,846.0 164.1,847.5 164.9,849.0 165.7,850.5 166.5,852.0 167.3,853.5 168.1,855.0 168.9,856.5 169.7,858.0 170.5,859.5 171.3,861.0 172.0,862.5 172.7,864.0 173.5,865.5 174.2,867.0 174.8,868.5 175.5,870.0 176.1,871.5 176.7,873.0 177.3,874.5 177.8,876.0 178.3,877.5 178.8,879.0 179.2,880.5 179.6,882.0 179.8,883.5 179.8,885.0 179.8,886.5 179.8,888.0 179.8,889.5 179.8,891.0 179.8,892.5 179.8,894.0 179.8,895.5 179.8,897.0 179.8,898.5 179.8,900.0 179.8,901.5 179.8,903.0 179.8,904.5 179.8,906.0 179.8,907.5 179.8,909.0 179.8,910.5 179.4,912.0 179.0,913.5 178.5,915.0 178.0,916.5 177.5,918.0 177.0,919.5 176.4,921.0 175.8,922.5 175.1,924.0 174.5,925.5 173.8,927.0 173.1,928.5 172.4,930.0 171.6,931.5 170.9,933.0 170.1,934.5 169.3,936.0 168.5,937.5 167.7,939.0 166.9,940.5 166.1,942.0 165.3,943.5 164.5,945.0 163.7,946.5 162.9,948.0 162.1,949.5 161.3,951.0 160.5,952.5 159.7,954.0 159.0,955.5 158.3,957.0 157.5,958.5 156.8,960.0 156.2,961.5 155.5,963.0 154.9,964.5 154.3,966.0 153.7,967.5 153.2,969.0 152.7,970.5 152.2,972.0 151.8,973.5 151.4,975.0 151.2,976.5 151.2,978.0 151.2,979.5 151.2,981.0 151.2,982.5 151.2,984.0 151.2,985.5 151.2,987.0 151.2,988.5 151.2,990.0 151.2,991.5 151.2,993.0 151.2,994.5 151.2,996.0 151.2,997.5 151.2,999.0 151.2,1000.5 151.2,1002.0 151.2,1003.5 151.6,1005.0 152.0,1006.5 152.5,1008.0 153.0,1009.5 153.5,1011.0 154.0,1012.5 154.6,1014.0 155.2,1015.5 155.9,1017.0 156.5,1018.5 157.2,1020.0 157.9,1021.5 158.6,1023.0 159.4,1024.5 160.1,1026.0 160.9,1027.5 161.7,1029.0 162.5,1030.5 163.3,1032.0 164.1,1033.5 164.9,1035.0 165.7,1036.5 166.5,1038.0 167.3,1039.5 168.1,1041.0 168.9,1042.5 169.7,1044.0 170.5,1045.5 171.3,1047.0 172.0,1048.5 172.7,1050.0 173.5,1051.5 174.2,1053.0 174.8,1054.5 175.5,1056.0 176.1,1057.5 176.7,1059.0 177.3,1060.5 177.8,1062.0 178.3,1063.5 178.8,1065.0 179.2,1066.5 179.6,1068.0 179.8,1069.5 179.8,1071.0 179.8,1072.5 179.8,1074.0 179.8,1075.5 179.8,1077.0 179.8,1078.5 179.8,1080.0 179.8,1081.5 179.8,1083.0 179.8,1084.5 179.8,1086.0 179.8,1087.5 179.8,1089.0 179.8,1090.5 179.8,1092.0 179.8,1093.5 179.8,1095.0 179.8,1096.5 179.4,1098.0 179.0,1099.5 178.5,1101.0 178.0,1102.5 177.5,1104.0 177.0,1105.5 176.4,1107.0 175.8,1108.5 175.1,1110.0 174.5,1111.5 173.8,1113.0 173.1,1114.5 172.4,1116.0 171.6,1117.5 170.9,1119.0 170.1,1120.5 169.3,1122.0 168.5,1123.5 167.7,1125.0 166.9,1126.5 166.1,1128.0 165.3,1129.5 164.5,1131.0 163.7,1132.5 162.9,1134.0 162.1,1135.5 161.3,1137.0 160.5,1138.5 159.7,1140.0 159.0,1141.5 158.3,1143.0 157.5,1144.5 156.8,1146.0 156.2,1147.5 155.5,1149.0 154.9,1150.5 154.3,1152.0 153.7,1153.5 153.2,1155.0 152.7,1156.5 152.2,1158.0 151.8,1159.5 151.4,1161.0 151.2,1162.5 151.2,1164.0 151.2,1165.5 151.2,1167.0 151.2,1168.5 151.2,1170.0 151.2,1171.5 151.2,1173.0 151.2,1174.5 151.2,1176.0 151.2,1177.5 151.2,1179.0 151.2,1180.5 151.2,1182.0 151.2,1183.5 151.2,1185.0 151.2,1186.5 151.2,1188.0 151.2,1189.5 151.6,1191.0 152.0,1192.5 152.5,1194.0 153.0,1195.5 153.5,1197.0 154.0,1198.5 154.6,1200.0 155.2,1201.5 155.9,1203.0 156.5,1204.5 157.2,1206.0 157.9,1207.5 158.6,1209.0 159.4,1210.5 160.1,1212.0 160.9,1213.5 161.7,1215.0 162.5,1216.5 163.3,1218.0 164.1,1219.5 164.9,1221.0 165.7,1222.5 166.5,1224.0 167.3,1225.5 168.1,1227.0 168.9,1228.5 169.7,1230.0 170.5,1231.5 171.3,1233.0 172.0,1234.5 172.7,1236.0 173.5,1237.5 174.2,1239.0 174.8,1240.5 175.5,1242.0 176.1,1243.5 176.7,1245.0 177.3,1246.5 177.8,1248.0 178.3,1249.5 178.8,1251.0 179.2,1252.5 179.6,1254.0 179.8,1255.5 179.8,1257.0 179.8,1258.5 179.8,1260.0 179.8,1261.5 179.8,1263.0 179.8,1264.5 179.8,1266.0 179.8,1267.5 179.8,1269.0 179.8,1270.5 179.8,1272.0 179.8,1273.5 179.8,1275.0 179.8,1276.5 179.8,1278.0 179.8,1279.5" stroke="#111" stroke-width="1.0" fill="none"/>
<polyline points="159.7,721.5 159.0,723.0 158.3,724.5 157.5,726.0 156.8,727.5 156.2,729.0 155.5,730.5 154.9,732.0 154.3,733.5 153.7,735.0 153.2,736.5 152.7,738.0 152.2,739.5 151.8,741.0 151.4,742.5 151.2,744.0 151.2,745.5 151.2,747.0 151.2,748.5 151.2,750.0 151.2,751.5 151.2,753.0 151.2,754.5 151.2,756.0 151.2,757.5 151.2,759.0 151.2,760.5 151.2,762.0 151.2,763.5 151.2,765.0 151.2,766.5 151.2,768.0 151.2,769.5 151.2,771.0 151.6,772.5 152.0,774.0 152.5,775.5 153.0,777.0 153.5,778.5 154.0,780.0 154.6,781.5 155.2,783.0 155.9,784.5 156.5,786.0 157.2,787.5 157.9,789.0 158.6,790.5 159.4,792.0 160.1,793.5 160.9,795.0 161.7,796.5 162.5,798.0 163.3,799.5 164.1,801.0 164.9,802.5 165.7,804.0 166.5,805.5 167.3,807.0 168.1,808.5 168.9,810.0 169.7,811.5 170.5,813.0 171.3,814.5 172.0,816.0 172.7,817.5 173.5,819.0 174.2,820.5 174.8,822.0 175.5,823.5 176.1,825.0 176.7,826.5 177.3,828.0 177.8,829.5 178.3,831.0 178.8,832.5 179.2,834.0 179.6,835.5 179.8,837.0 179.8,838.5 179.8,840.0 179.8,841.5 179.8,843.0 179.8,844.5 179.8,846.0 179.8,847.5 179.8,849.0 179.8,850.5 179.8,852.0 179.8,853.5 179.8,855.0 179.8,856.5 179.8,858.0 179.8,859.5 179.8,861.0 179.8,862.5 179.8,864.0 179.4,865.5 179.0,867.0 178.5,868.5 178.0,870.0 177.5,871.5 177.0,873.0 176.4,874.5 175.8,876.0 175.1,877.5 174.5,879.0 173.8,880.5 173.1,882.0 172.4,883.5 171.6,885.0 170.9,886.5 170.1,888.0 169.3,889.5 168.5,891.0 167.7,892.5 166.9,894.0 166.1,895.5 165.3,897.0 164.5,898.5 163.7,900.0 162.9,901.5 162.1,903.0 161.3,904.5 160.5,906.0 159.7,907.5 159.0,909.0 158.3,910.5 157.5,912.0 156.8,913.5 156.2,915.0 155.5,916.5 154.9,918.0 154.3,919.5 153.7,921.0 153.2,922.5 152.7,924.0 152.2,925.5 151.8,927.0 151.4,928.5 151.2,930.0 151.2,931.5 151.2,933.0 151.2,934.5 151.2,936.0 151.2,937.5 151.2,939.0 151.2,940.5 151.2,942.0 151.2,943.5 151.2,945.0 151.2,946.5 151.2,948.0 151.2,949.5 151.2,951.0 151.2,952.5 151.2,954.0 151.2,955.5 151.2,957.0 151.6,958.5 152.0,960.0 152.5,961.5 153.0,963.0 153.5,964.5 154.0,966.0 154.6,967.5 155.2,969.0 155.9,970.5 156.5,972.0 157.2,973.5 157.9,975.0 158.6,976.5 159.4,978.0 160.1,979.5 160.9,981.0 161.7,982.5 162.5,984.0 163.3,985.5 164.1,987.0 164.9,988.5 165.7,990.0 166.5,991.5 167.3,993.0 168.1,994.5 168.9,996.0 169.7,997.5 170.5,999.0 171.3,1000.5 172.0,1002.0 172.7,1003.5 173.5,1005.0 174.2,1006.5 174.8,1008.0 175.5,1009.5 176.1,1011.0 176.7,1012.5 177.3,1014.0 177.8,1015.5 178.3,1017.0 178.8,1018.5 179.2,1020.0 179.6,1021.5 179.8,1023.0 179.8,1024.5 179.8,1026.0 179.8,1027.5 179.8,1029.0 179.8,1030.5 179.8,1032.0 179.8,1033.5 179.8,1035.0 179.8,1036.5 179.8,1038.0 179.8,1039.5 179.8,1041.0 179.8,1042.5 179.8,1044.0 179.8,1045.5 179.8,1047.0 179.8,1048.5 179.8,1050.0 179.4,1051.5 179.0,1053.0 178.5,1054.5 178.0,1056.0 177.5,1057.5 177.0,1059.0 176.4,1060.5 175.8,1062.0 175.1,1063.5 174.5,1065.0 173.8,1066.5 173.1,1068.0 172.4,1069.5 171.6,1071.0 170.9,1072.5 170.1,1074.0 169.3,1075.5 168.5,1077.0 167.7,1078.5 166.9,1080.0 166.1,1081.5 165.3,1083.0 164.5,1084.5 163.7,1086.0 162.9,1087.5 162.1,1089.0 161.3,1090.5 160.5,1092.0 159.7,1093.5 159.0,1095.0 158.3,1096.5 157.5,1098.0 156.8,1099.5 156.2,1101.0 155.5,1102.5 154.9,1104.0 154.3,1105.5 153.7,1107.0 153.2,1108.5 152.7,1110.0 152.2,1111.5 151.8,1113.0 151.4,1114.5 151.2,1116.0 151.2,1117.5 151.2,1119.0 151.2,1120.5 151.2,1122.0 151.2,1123.5 151.2,1125.0 151.2,1126.5 151.2,1128.0 151.2,1129.5 151.2,1131.0 151.2,1132.5 151.2,1134.0 151.2,1135.5 151.2,1137.0 151.2,1138.5 151.2,1140.0 151.2,1141.5 151.2,1143.0 151.6,1144.5 152.0,1146.0 152.5,1147.5 153.0,1149.0 153.5,1150.5 154.0,1152.0 154.6,1153.5 155.2,1155.0 155.9,1156.5 156.5,1158.0 157.2,1159.5 157.9,1161.0 158.6,1162.5 159.4,1164.0 160.1,1165.5 160.9,1167.0 161.7,1168.5 162.5,1170.0 163.3,1171.5 164.1,1173.0 164.9,1174.5 165.7,1176.0 166.5,1177.5 167.3,1179.0 168.1,1180.5 168.9,1182.0 169.7,1183.5 170.5,1185.0 171.3,1186.5 172.0,1188.0 172.7,1189.5 173.5,1191.0 174.2,1192.5 174.8,1194.0 175.5,1195.5 176.1,1197.0 176.7,1198.5 177.3,1200.0 177.8,1201.5 178.3,1203.0 178.8,1204.5 179.2,1206.0 179.6,1207.5 179.8,1209.0 179.8,1210.5 179.8,1212.0 179.8,1213.5 179.8,1215.0 179.8,1216.5 179.8,1218.0 179.8,1219.5 179.8,1221.0 179.8,1222.5 179.8,1224.0 179.8,1225.5 179.8,1227.0 179.8,1228.5 179.8,1230.0 179.8,1231.5 179.8,1233.0 179.8,1234.5 179.8,1236.0 179.4,1237.5 179.0,1239.0 178.5,1240.5 178.0,1242.0 177.5,1243.5 177.0,1245.0 176.4,1246.5 175.8,1248.0 175.1,1249.5 174.5,1251.0 173.8,1252.5 173.1,1254.0 172.4,1255.5 171.6,1257.0 170.9,1258.5 170.1,1260.0 169.3,1261.5 168.5,1263.0 167.7,1264.5 166.9,1266.0 166.1,1267.5 165.3,1269.0 164.5,1270.5 163.7,1272.0 162.9,1273.5 162.1,1275.0 161.3,1276.5 160.5,1278.0 159.7,1279.5" stroke="#111" stroke-width="1.0" fill="none"/>
</g>
<clipPath id="bk149_1278"><rect x="144.2" y="1278" width="42.60000000000002" height="57"/></clipPath>
<g clip-path="url(#bk149_1278)">
<polyline points="153.9,1276.0 154.5,1277.5 155.1,1279.0 155.7,1280.5 156.4,1282.0 157.0,1283.5 157.7,1285.0 158.4,1286.5 159.2,1288.0 159.9,1289.5 160.7,1291.0 161.5,1292.5 162.3,1294.0 163.1,1295.5 163.9,1297.0 164.7,1298.5 165.5,1300.0 166.3,1301.5 167.1,1303.0 167.9,1304.5 168.7,1306.0 169.5,1307.5 170.3,1309.0 171.1,1310.5 171.8,1312.0 172.6,1313.5 173.3,1315.0 174.0,1316.5 174.6,1318.0 175.3,1319.5 175.9,1321.0 176.5,1322.5 177.1,1324.0 177.7,1325.5 178.2,1327.0 178.6,1328.5 179.1,1330.0 179.5,1331.5 179.8,1333.0 179.8,1334.5 179.8,1336.0" stroke="#111" stroke-width="1.0" fill="none"/>
<polyline points="176.5,1276.0 177.1,1277.5 177.7,1279.0 178.2,1280.5 178.6,1282.0 179.1,1283.5 179.5,1285.0 179.8,1286.5 179.8,1288.0 179.8,1289.5 179.8,1291.0 179.8,1292.5 179.8,1294.0 179.8,1295.5 179.8,1297.0 179.8,1298.5 179.8,1300.0 179.8,1301.5 179.8,1303.0 179.8,1304.5 179.8,1306.0 179.8,1307.5 179.8,1309.0 179.8,1310.5 179.8,1312.0 179.8,1313.5 179.5,1315.0 179.1,1316.5 178.6,1318.0 178.2,1319.5 177.7,1321.0 177.1,1322.5 176.5,1324.0 175.9,1325.5 175.3,1327.0 174.6,1328.5 174.0,1330.0 173.3,1331.5 172.6,1333.0 171.8,1334.5 171.1,1336.0" stroke="#111" stroke-width="1.0" fill="none"/>
<polyline points="177.1,1276.0 176.5,1277.5 175.9,1279.0 175.3,1280.5 174.6,1282.0 174.0,1283.5 173.3,1285.0 172.6,1286.5 171.8,1288.0 171.1,1289.5 170.3,1291.0 169.5,1292.5 168.7,1294.0 167.9,1295.5 167.1,1297.0 166.3,1298.5 165.5,1300.0 164.7,1301.5 163.9,1303.0 163.1,1304.5 162.3,1306.0 161.5,1307.5 160.7,1309.0 159.9,1310.5 159.2,1312.0 158.4,1313.5 157.7,1315.0 157.0,1316.5 156.4,1318.0 155.7,1319.5 155.1,1321.0 154.5,1322.5 153.9,1324.0 153.3,1325.5 152.8,1327.0 152.4,1328.5 151.9,1330.0 151.5,1331.5 151.2,1333.0 151.2,1334.5 151.2,1336.0" stroke="#111" stroke-width="1.0" fill="none"/>
<polyline points="154.5,1276.0 153.9,1277.5 153.3,1279.0 152.8,1280.5 152.4,1282.0 151.9,1283.5 151.5,1285.0 151.2,1286.5 151.2,1288.0 151.2,1289.5 151.2,1291.0 151.2,1292.5 151.2,1294.0 151.2,1295.5 151.2,1297.0 151.2,1298.5 151.2,1300.0 151.2,1301.5 151.2,1303.0 151.2,1304.5 151.2,1306.0 151.2,1307.5 151.2,1309.0 151.2,1310.5 151.2,1312.0 151.2,1313.5 151.5,1315.0 151.9,1316.5 152.4,1318.0 152.8,1319.5 153.3,1321.0 153.9,1322.5 154.5,1324.0 155.1,1325.5 155.7,1327.0 156.4,1328.5 157.0,1330.0 157.7,1331.5 158.4,1333.0 159.2,1334.5 159.9,1336.0" stroke="#111" stroke-width="1.0" fill="none"/>
</g>
<line x1="149.2" y1="723.5" x2="149.2" y2="1335.0" stroke="#000" stroke-width="2.4"/>
<line x1="181.8" y1="723.5" x2="181.8" y2="1335.0" stroke="#000" stroke-width="2.6"/>
<line x1="149.8" y1="723.5" x2="149.8" y2="1278.0" stroke="#000" stroke-width="4.4"/>
</g>
<g clip-path="url(#hcC)">
<polyline points="105.7,1335.0 105.7,1336.5 105.9,1338.0 106.3,1339.5 106.7,1341.0 107.2,1342.5 107.6,1344.0 108.2,1345.5 108.7,1347.0 109.3,1348.5 109.9,1350.0 110.6,1351.5 111.2,1353.0 111.9,1354.5 112.6,1356.0 113.3,1357.5 114.1,1359.0 114.8,1360.5 115.6,1362.0 116.4,1363.5 117.1,1365.0 117.9,1366.5 118.7,1368.0 119.5,1369.5 120.3,1371.0 121.1,1372.5 121.9,1374.0 122.7,1375.5 123.5,1377.0 124.3,1378.5 125.0,1380.0 125.8,1381.5 126.5,1383.0 127.2,1384.5 127.9,1386.0 128.6,1387.5 129.3,1389.0 129.9,1390.5 130.5,1392.0 131.1,1393.5 131.6,1395.0 132.1,1396.5 132.6,1398.0 133.1,1399.5 133.5,1401.0 133.9,1402.5 133.9,1404.0 133.9,1405.5 133.9,1407.0 133.9,1408.5 133.9,1410.0 133.9,1411.5 133.9,1413.0 133.9,1414.5 133.9,1416.0" stroke="#111" stroke-width="1.0" fill="none"/>
<polyline points="125.8,1335.0 126.5,1336.5 127.2,1338.0 127.9,1339.5 128.6,1341.0 129.3,1342.5 129.9,1344.0 130.5,1345.5 131.1,1347.0 131.6,1348.5 132.1,1350.0 132.6,1351.5 133.1,1353.0 133.5,1354.5 133.9,1356.0 133.9,1357.5 133.9,1359.0 133.9,1360.5 133.9,1362.0 133.9,1363.5 133.9,1365.0 133.9,1366.5 133.9,1368.0 133.9,1369.5 133.9,1371.0 133.9,1372.5 133.9,1374.0 133.9,1375.5 133.9,1377.0 133.9,1378.5 133.9,1380.0 133.9,1381.5 133.9,1383.0 133.7,1384.5 133.3,1386.0 132.9,1387.5 132.4,1389.0 132.0,1390.5 131.4,1392.0 130.9,1393.5 130.3,1395.0 129.7,1396.5 129.0,1398.0 128.4,1399.5 127.7,1401.0 127.0,1402.5 126.3,1404.0 125.5,1405.5 124.8,1407.0 124.0,1408.5 123.2,1410.0 122.5,1411.5 121.7,1413.0 120.9,1414.5 120.1,1416.0" stroke="#111" stroke-width="1.0" fill="none"/>
<polyline points="133.9,1335.0 133.9,1336.5 133.7,1338.0 133.3,1339.5 132.9,1341.0 132.4,1342.5 132.0,1344.0 131.4,1345.5 130.9,1347.0 130.3,1348.5 129.7,1350.0 129.0,1351.5 128.4,1353.0 127.7,1354.5 127.0,1356.0 126.3,1357.5 125.5,1359.0 124.8,1360.5 124.0,1362.0 123.2,1363.5 122.5,1365.0 121.7,1366.5 120.9,1368.0 120.1,1369.5 119.3,1371.0 118.5,1372.5 117.7,1374.0 116.9,1375.5 116.1,1377.0 115.3,1378.5 114.6,1380.0 113.8,1381.5 113.1,1383.0 112.4,1384.5 111.7,1386.0 111.0,1387.5 110.3,1389.0 109.7,1390.5 109.1,1392.0 108.5,1393.5 108.0,1395.0 107.5,1396.5 107.0,1398.0 106.5,1399.5 106.1,1401.0 105.7,1402.5 105.7,1404.0 105.7,1405.5 105.7,1407.0 105.7,1408.5 105.7,1410.0 105.7,1411.5 105.7,1413.0 105.7,1414.5 105.7,1416.0" stroke="#111" stroke-width="1.0" fill="none"/>
<polyline points="113.8,1335.0 113.1,1336.5 112.4,1338.0 111.7,1339.5 111.0,1341.0 110.3,1342.5 109.7,1344.0 109.1,1345.5 108.5,1347.0 108.0,1348.5 107.5,1350.0 107.0,1351.5 106.5,1353.0 106.1,1354.5 105.7,1356.0 105.7,1357.5 105.7,1359.0 105.7,1360.5 105.7,1362.0 105.7,1363.5 105.7,1365.0 105.7,1366.5 105.7,1368.0 105.7,1369.5 105.7,1371.0 105.7,1372.5 105.7,1374.0 105.7,1375.5 105.7,1377.0 105.7,1378.5 105.7,1380.0 105.7,1381.5 105.7,1383.0 105.9,1384.5 106.3,1386.0 106.7,1387.5 107.2,1389.0 107.6,1390.5 108.2,1392.0 108.7,1393.5 109.3,1395.0 109.9,1396.5 110.6,1398.0 111.2,1399.5 111.9,1401.0 112.6,1402.5 113.3,1404.0 114.1,1405.5 114.8,1407.0 115.6,1408.5 116.4,1410.0 117.1,1411.5 117.9,1413.0 118.7,1414.5 119.5,1416.0" stroke="#111" stroke-width="1.0" fill="none"/>
<line x1="103.7" y1="1335.0" x2="103.7" y2="1416.0" stroke="#000" stroke-width="2.6"/>
<line x1="135.9" y1="1335.0" x2="135.9" y2="1416.0" stroke="#000" stroke-width="3.4"/>
</g>
<g clip-path="url(#hcD)">
<polyline points="151.2,1335.0 151.2,1336.5 151.4,1338.0 151.8,1339.5 152.2,1341.0 152.7,1342.5 153.2,1344.0 153.7,1345.5 154.3,1347.0 154.9,1348.5 155.5,1350.0 156.1,1351.5 156.8,1353.0 157.5,1354.5 158.2,1356.0 158.9,1357.5 159.7,1359.0 160.4,1360.5 161.2,1362.0 162.0,1363.5 162.8,1365.0 163.6,1366.5 164.4,1368.0 165.2,1369.5 166.0,1371.0 166.9,1372.5 167.7,1374.0 168.5,1375.5 169.3,1377.0 170.0,1378.5 170.8,1380.0 171.6,1381.5 172.3,1383.0 173.0,1384.5 173.7,1386.0 174.4,1387.5 175.1,1389.0 175.7,1390.5 176.3,1392.0 176.9,1393.5 177.5,1395.0 178.0,1396.5 178.5,1398.0 178.9,1399.5 179.4,1401.0 179.8,1402.5 179.8,1404.0 179.8,1405.5 179.8,1407.0 179.8,1408.5 179.8,1410.0 179.8,1411.5 179.8,1413.0 179.8,1414.5 179.8,1416.0" stroke="#111" stroke-width="1.0" fill="none"/>
<polyline points="171.6,1335.0 172.3,1336.5 173.0,1338.0 173.7,1339.5 174.4,1341.0 175.1,1342.5 175.7,1344.0 176.3,1345.5 176.9,1347.0 177.5,1348.5 178.0,1350.0 178.5,1351.5 178.9,1353.0 179.4,1354.5 179.8,1356.0 179.8,1357.5 179.8,1359.0 179.8,1360.5 179.8,1362.0 179.8,1363.5 179.8,1365.0 179.8,1366.5 179.8,1368.0 179.8,1369.5 179.8,1371.0 179.8,1372.5 179.8,1374.0 179.8,1375.5 179.8,1377.0 179.8,1378.5 179.8,1380.0 179.8,1381.5 179.8,1383.0 179.6,1384.5 179.2,1386.0 178.8,1387.5 178.3,1389.0 177.8,1390.5 177.3,1392.0 176.7,1393.5 176.1,1395.0 175.5,1396.5 174.9,1398.0 174.2,1399.5 173.5,1401.0 172.8,1402.5 172.1,1404.0 171.3,1405.5 170.6,1407.0 169.8,1408.5 169.0,1410.0 168.2,1411.5 167.4,1413.0 166.6,1414.5 165.8,1416.0" stroke="#111" stroke-width="1.0" fill="none"/>
<polyline points="179.8,1335.0 179.8,1336.5 179.6,1338.0 179.2,1339.5 178.8,1341.0 178.3,1342.5 177.8,1344.0 177.3,1345.5 176.7,1347.0 176.1,1348.5 175.5,1350.0 174.9,1351.5 174.2,1353.0 173.5,1354.5 172.8,1356.0 172.1,1357.5 171.3,1359.0 170.6,1360.5 169.8,1362.0 169.0,1363.5 168.2,1365.0 167.4,1366.5 166.6,1368.0 165.8,1369.5 165.0,1371.0 164.1,1372.5 163.3,1374.0 162.5,1375.5 161.7,1377.0 161.0,1378.5 160.2,1380.0 159.4,1381.5 158.7,1383.0 158.0,1384.5 157.3,1386.0 156.6,1387.5 155.9,1389.0 155.3,1390.5 154.7,1392.0 154.1,1393.5 153.5,1395.0 153.0,1396.5 152.5,1398.0 152.1,1399.5 151.6,1401.0 151.2,1402.5 151.2,1404.0 151.2,1405.5 151.2,1407.0 151.2,1408.5 151.2,1410.0 151.2,1411.5 151.2,1413.0 151.2,1414.5 151.2,1416.0" stroke="#111" stroke-width="1.0" fill="none"/>
<polyline points="159.4,1335.0 158.7,1336.5 158.0,1338.0 157.3,1339.5 156.6,1341.0 155.9,1342.5 155.3,1344.0 154.7,1345.5 154.1,1347.0 153.5,1348.5 153.0,1350.0 152.5,1351.5 152.1,1353.0 151.6,1354.5 151.2,1356.0 151.2,1357.5 151.2,1359.0 151.2,1360.5 151.2,1362.0 151.2,1363.5 151.2,1365.0 151.2,1366.5 151.2,1368.0 151.2,1369.5 151.2,1371.0 151.2,1372.5 151.2,1374.0 151.2,1375.5 151.2,1377.0 151.2,1378.5 151.2,1380.0 151.2,1381.5 151.2,1383.0 151.4,1384.5 151.8,1386.0 152.2,1387.5 152.7,1389.0 153.2,1390.5 153.7,1392.0 154.3,1393.5 154.9,1395.0 155.5,1396.5 156.1,1398.0 156.8,1399.5 157.5,1401.0 158.2,1402.5 158.9,1404.0 159.7,1405.5 160.4,1407.0 161.2,1408.5 162.0,1410.0 162.8,1411.5 163.6,1413.0 164.4,1414.5 165.2,1416.0" stroke="#111" stroke-width="1.0" fill="none"/>
<line x1="149.2" y1="1335.0" x2="149.2" y2="1416.0" stroke="#000" stroke-width="3.4"/>
<line x1="181.8" y1="1335.0" x2="181.8" y2="1416.0" stroke="#000" stroke-width="2.6"/>
</g>
<path d="M103.7,1325 Q104,1329.3 108,1329.3 C118,1330 128,1326 135.9,1320.8" stroke="#000" stroke-width="3.0" fill="none" stroke-linejoin="round" stroke-linecap="round"/>
<path d="M149.2,1319.4 C158,1322 165,1327.5 172,1328 L181.8,1328" stroke="#000" stroke-width="3.0" fill="none" stroke-linejoin="round" stroke-linecap="round"/>
<path d="M103.7,1344.3 C110,1347.5 118,1348.5 125,1345 L135.9,1338" stroke="#000" stroke-width="3.0" fill="none" stroke-linejoin="round" stroke-linecap="round"/>
<path d="M149.2,1337.4 C155,1338 162,1344 170,1345 L181.8,1345" stroke="#000" stroke-width="3.0" fill="none" stroke-linejoin="round" stroke-linecap="round"/>
<rect x="66.5" y="774.7" width="36.5" height="14.7" rx="1.5" stroke="#000" stroke-width="3.0" fill="none" stroke-linejoin="round" stroke-linecap="round"/>
<line x1="66.5" y1="780.6" x2="103.0" y2="780.6" stroke="#000" stroke-width="3.0" fill="none" stroke-linejoin="round" stroke-linecap="round"/>
<line x1="90.0" y1="774.7" x2="90.0" y2="789.4" stroke="#000" stroke-width="3.0" fill="none" stroke-linejoin="round" stroke-linecap="round"/>
<rect x="96.5" y="789.4" width="6.5" height="30.6" rx="1" stroke="#000" stroke-width="3.0" fill="none" stroke-linejoin="round" stroke-linecap="round"/>
<rect x="180.6" y="774.7" width="38.8" height="14.7" rx="1.5" stroke="#000" stroke-width="3.0" fill="none" stroke-linejoin="round" stroke-linecap="round"/>
<line x1="180.6" y1="780.6" x2="219.4" y2="780.6" stroke="#000" stroke-width="3.0" fill="none" stroke-linejoin="round" stroke-linecap="round"/>
<line x1="195.3" y1="774.7" x2="195.3" y2="789.4" stroke="#000" stroke-width="3.0" fill="none" stroke-linejoin="round" stroke-linecap="round"/>
<rect x="180.6" y="789.4" width="7.0" height="30.6" rx="1" stroke="#000" stroke-width="3.0" fill="none" stroke-linejoin="round" stroke-linecap="round"/>
<rect x="102.1" y="1415.8" width="33.8" height="15.9" rx="0.5" stroke="#000" stroke-width="3.0" fill="none" stroke-linejoin="round" stroke-linecap="round"/>
<line x1="102.6" y1="1430.9" x2="102.6" y2="1462.1" stroke="#000" stroke-width="2.8"/>
<line x1="135.4" y1="1430.9" x2="135.4" y2="1462.1" stroke="#000" stroke-width="2.8"/>
<rect x="104.1" y="1432.0" width="6.6" height="30.1" rx="1.5" stroke="#000" stroke-width="2.2" fill="none"/>
<rect x="113.9" y="1432.0" width="10.6" height="30.1" rx="1.5" stroke="#000" stroke-width="2.2" fill="none"/>
<rect x="127.0" y="1432.0" width="7.6" height="30.1" rx="1.5" stroke="#000" stroke-width="2.2" fill="none"/>
<rect x="102.1" y="1462.1" width="33.8" height="9.5" rx="0.5" stroke="#000" stroke-width="3.0" fill="none" stroke-linejoin="round" stroke-linecap="round"/>
<rect x="148.9" y="1415.8" width="34.6" height="15.9" rx="0.5" stroke="#000" stroke-width="3.0" fill="none" stroke-linejoin="round" stroke-linecap="round"/>
<line x1="149.5" y1="1430.9" x2="149.5" y2="1462.1" stroke="#000" stroke-width="2.8"/>
<line x1="182.9" y1="1430.9" x2="182.9" y2="1462.1" stroke="#000" stroke-width="2.8"/>
<rect x="150.9" y="1432.0" width="6.7" height="30.1" rx="1.5" stroke="#000" stroke-width="2.2" fill="none"/>
<rect x="161.0" y="1432.0" width="10.8" height="30.1" rx="1.5" stroke="#000" stroke-width="2.2" fill="none"/>
<rect x="174.4" y="1432.0" width="7.8" height="30.1" rx="1.5" stroke="#000" stroke-width="2.2" fill="none"/>
<rect x="148.9" y="1462.1" width="34.6" height="9.5" rx="0.5" stroke="#000" stroke-width="3.0" fill="none" stroke-linejoin="round" stroke-linecap="round"/>
<rect x="84.6" y="1472.0" width="115.5" height="38.0" rx="6" stroke="#000" stroke-width="3.0" fill="none" stroke-linejoin="round" stroke-linecap="round"/>
<line x1="103.0" y1="1472.0" x2="103.0" y2="1510.0" stroke="#000" stroke-width="3.0" fill="none" stroke-linejoin="round" stroke-linecap="round"/>
<line x1="137.2" y1="1472.0" x2="137.2" y2="1510.0" stroke="#000" stroke-width="3.0" fill="none" stroke-linejoin="round" stroke-linecap="round"/>
<line x1="148.8" y1="1472.0" x2="148.8" y2="1510.0" stroke="#000" stroke-width="3.0" fill="none" stroke-linejoin="round" stroke-linecap="round"/>
<line x1="184.0" y1="1472.0" x2="184.0" y2="1510.0" stroke="#000" stroke-width="3.0" fill="none" stroke-linejoin="round" stroke-linecap="round"/>
<path d="M95.5,1529 L72.7,1563.3 L80,1564.5 L76.2,1600.7 L89.3,1603 L96,1569.5 L105.9,1569 Z" fill="#000"/>
<path d="M189,1529 L179,1569 L189.3,1568.5 L195.2,1603 L207.6,1601 L201.4,1564 L211.8,1562 Z" fill="#000"/>
<line x1="575.4" y1="100.2" x2="575.4" y2="256.0" stroke="#262626" stroke-width="1.4" fill="none"/>
<line x1="944.8" y1="100.2" x2="944.8" y2="324.4" stroke="#262626" stroke-width="1.4" fill="none"/>
<line x1="575.4" y1="107.7" x2="944.8" y2="107.7" stroke="#262626" stroke-width="1.4" fill="none"/>
<path d="M575.40,106.80 L575.40,108.60 L595.90,112.00 L595.90,103.40 Z" fill="#000"/>
<path d="M944.80,108.60 L944.80,106.80 L924.30,103.40 L924.30,112.00 Z" fill="#000"/>
<line x1="438.7" y1="176.4" x2="880.8" y2="176.4" stroke="#262626" stroke-width="1.4" fill="none"/>
<line x1="446.1" y1="176.4" x2="446.1" y2="1480.2" stroke="#262626" stroke-width="1.4" fill="none"/>
<path d="M447.00,176.40 L445.20,176.40 L441.80,196.90 L450.40,196.90 Z" fill="#000"/>
<path d="M445.20,652.50 L447.00,652.50 L450.40,632.00 L441.80,632.00 Z" fill="#000"/>
<path d="M447.00,652.50 L445.20,652.50 L441.80,673.00 L450.40,673.00 Z" fill="#000"/>
<path d="M445.20,1480.20 L447.00,1480.20 L450.40,1459.70 L441.80,1459.70 Z" fill="#000"/>
<line x1="438.7" y1="652.5" x2="489.5" y2="652.5" stroke="#262626" stroke-width="1.4" fill="none"/>
<line x1="659.4" y1="652.5" x2="1423.8" y2="652.5" stroke="#262626" stroke-width="1.4" fill="none"/>
<line x1="445.2" y1="1480.2" x2="565.7" y2="1480.2" stroke="#262626" stroke-width="1.4" fill="none"/>
<line x1="665.0" y1="634.2" x2="766.5" y2="634.2" stroke="#262626" stroke-width="1.4" fill="none"/>
<line x1="760.1" y1="549.8" x2="760.1" y2="686.8" stroke="#262626" stroke-width="1.4" fill="none"/>
<path d="M759.20,634.20 L761.00,634.20 L764.40,613.70 L755.80,613.70 Z" fill="#000"/>
<path d="M761.00,652.50 L759.20,652.50 L755.80,673.00 L764.40,673.00 Z" fill="#000"/>
<line x1="835.7" y1="617.3" x2="835.7" y2="1037.2" stroke="#262626" stroke-width="1.4" fill="none"/>
<line x1="636.4" y1="775.2" x2="842.2" y2="775.2" stroke="#262626" stroke-width="1.4" fill="none"/>
<path d="M834.80,652.50 L836.60,652.50 L840.00,632.00 L831.40,632.00 Z" fill="#000"/>
<path d="M836.60,775.20 L834.80,775.20 L831.40,795.70 L840.00,795.70 Z" fill="#000"/>
<line x1="947.8" y1="361.6" x2="1418.8" y2="361.6" stroke="#262626" stroke-width="1.4" fill="none"/>
<line x1="1412.1" y1="361.6" x2="1412.1" y2="652.5" stroke="#262626" stroke-width="1.4" fill="none"/>
<line x1="1416.3" y1="652.5" x2="1416.3" y2="674.0" stroke="#262626" stroke-width="1.4" fill="none"/>
<path d="M1413.00,361.60 L1411.20,361.60 L1407.80,382.10 L1416.40,382.10 Z" fill="#000"/>
<path d="M1411.20,652.50 L1413.00,652.50 L1416.40,632.00 L1407.80,632.00 Z" fill="#000"/>
<path d="M1417.20,652.50 L1415.40,652.50 L1412.00,673.00 L1420.60,673.00 Z" fill="#000"/>
<line x1="962.5" y1="336.3" x2="1149.4" y2="269.0" stroke="#262626" stroke-width="1.4" fill="none"/>
<line x1="962.5" y1="387.4" x2="1149.4" y2="455.0" stroke="#262626" stroke-width="1.4" fill="none"/>
<path d="M1140.1,266.5 A265.7 265.7 0 0 1 1098.5,528.9" stroke="#262626" stroke-width="1.4" fill="none"/>
<path d="M1142.52,270.52 L1140.83,271.13 L1144.65,291.56 L1152.73,288.62 Z" fill="#000"/>
<path d="M1156.80,361.70 L1158.60,361.70 L1162.00,341.20 L1153.40,341.20 Z" fill="#000"/>
<path d="M1158.60,361.70 L1156.80,361.70 L1153.40,382.20 L1162.00,382.20 Z" fill="#000"/>
<path d="M1140.83,452.27 L1142.52,452.88 L1152.73,434.78 L1144.65,431.84 Z" fill="#000"/>
<line x1="541.2" y1="827.3" x2="541.2" y2="891.2" stroke="#262626" stroke-width="1.4" fill="none"/>
<line x1="565.6" y1="827.3" x2="565.6" y2="891.2" stroke="#262626" stroke-width="1.4" fill="none"/>
<line x1="460.6" y1="884.4" x2="599.9" y2="884.4" stroke="#262626" stroke-width="1.4" fill="none"/>
<path d="M541.20,885.30 L541.20,883.50 L520.70,880.10 L520.70,888.70 Z" fill="#000"/>
<path d="M565.60,883.50 L565.60,885.30 L586.10,888.70 L586.10,880.10 Z" fill="#000"/>
<line x1="532.3" y1="1455.4" x2="733.8" y2="1455.4" stroke="#262626" stroke-width="1.4" fill="none"/>
<path d="M565.70,1456.30 L565.70,1454.50 L545.20,1451.10 L545.20,1459.70 Z" fill="#000"/>
<path d="M626.90,1454.50 L626.90,1456.30 L647.40,1459.70 L647.40,1451.10 Z" fill="#000"/>
<line x1="570.4" y1="1486.7" x2="570.4" y2="1565.9" stroke="#262626" stroke-width="1.4" fill="none"/>
<line x1="622.2" y1="1486.7" x2="622.2" y2="1565.9" stroke="#262626" stroke-width="1.4" fill="none"/>
<line x1="535.9" y1="1558.7" x2="911.2" y2="1558.7" stroke="#262626" stroke-width="1.4" fill="none"/>
<path d="M570.40,1559.60 L570.40,1557.80 L549.90,1554.40 L549.90,1563.00 Z" fill="#000"/>
<path d="M622.20,1557.80 L622.20,1559.60 L642.70,1563.00 L642.70,1554.40 Z" fill="#000"/>
<path d="M584.2,206.4 L926.5,176.4 Q929,190 905,199 C870,210 800,213 762.8,218.6 C738,222.3 719,240 715,256.9 L704.6,308.8 L637.5,297.7 L575.5,256.9 Z" stroke="#000" stroke-width="3.0" fill="none" stroke-linejoin="round" stroke-linecap="round"/>
<ellipse cx="716.4" cy="270.7" rx="2.6" ry="12" transform="rotate(10 716.4 270.7)" stroke="#000" stroke-width="1.8" fill="none"/>
<path d="M588.4,266.6 Q575,280 571.5,297.7 L698.4,320.6 L698.4,308.8" stroke="#000" stroke-width="3.0" fill="none" stroke-linejoin="round" stroke-linecap="round"/>
<path d="M571.5,297.7 L512.7,632.8" stroke="#000" stroke-width="3.0" fill="none" stroke-linejoin="round" stroke-linecap="round"/>
<path d="M698.4,320.6 C702,338 715,348 740,348 L857.5,332.3 L857.5,393.4 L740.2,416.9 C711,422.8 672.2,474 668.2,497.2 L644.7,632.8" stroke="#000" stroke-width="3.0" fill="none" stroke-linejoin="round" stroke-linecap="round"/>
<path d="M676.3,350.3 C690,355 705,357 740,354 L857.5,337.5" stroke="#000" stroke-width="3.0" fill="none" stroke-linejoin="round" stroke-linecap="round"/>
<rect x="500.0" y="632.8" width="156.3" height="20.8" rx="4" stroke="#000" stroke-width="3.0" fill="none" stroke-linejoin="round" stroke-linecap="round"/>
<rect x="857.8" y="346.9" width="12.5" height="29.8" rx="0" stroke="#000" stroke-width="3.0" fill="none" stroke-linejoin="round" stroke-linecap="round"/>
<path d="M870.3,349.6 L877,349.6 Q880.8,350 880.8,355 L880.8,371 Q880.8,376 877,376 L870.3,376" stroke="#000" stroke-width="1.4" fill="none"/>
<path d="M870.5,326 L940.5,326 L944.8,328.5 L944.8,395.5 L940.5,398.3 L870.5,398.3 Z" stroke="#000" stroke-width="3.0" fill="none" stroke-linejoin="round" stroke-linecap="round"/>
<line x1="892.0" y1="326.0" x2="892.0" y2="398.3" stroke="#000" stroke-width="3.3"/>
<line x1="932.6" y1="326.0" x2="932.6" y2="398.3" stroke="#000" stroke-width="1.2"/>
<rect x="543.4" y="653.5" width="20" height="121" fill="#000"/>
<rect x="550.5" y="658.0" width="1.4" height="1.4" fill="#fff"/>
<rect x="557.5" y="663.9" width="1.4" height="1.4" fill="#fff"/>
<rect x="550.5" y="669.8" width="1.4" height="1.4" fill="#fff"/>
<rect x="557.5" y="675.7" width="1.4" height="1.4" fill="#fff"/>
<rect x="550.5" y="681.6" width="1.4" height="1.4" fill="#fff"/>
<rect x="557.5" y="687.5" width="1.4" height="1.4" fill="#fff"/>
<rect x="550.5" y="693.4" width="1.4" height="1.4" fill="#fff"/>
<rect x="557.5" y="699.3" width="1.4" height="1.4" fill="#fff"/>
<rect x="550.5" y="705.2" width="1.4" height="1.4" fill="#fff"/>
<rect x="557.5" y="711.1" width="1.4" height="1.4" fill="#fff"/>
<rect x="550.5" y="717.0" width="1.4" height="1.4" fill="#fff"/>
<rect x="557.5" y="722.9" width="1.4" height="1.4" fill="#fff"/>
<rect x="550.5" y="728.8" width="1.4" height="1.4" fill="#fff"/>
<rect x="557.5" y="734.7" width="1.4" height="1.4" fill="#fff"/>
<rect x="550.5" y="740.6" width="1.4" height="1.4" fill="#fff"/>
<rect x="557.5" y="746.5" width="1.4" height="1.4" fill="#fff"/>
<rect x="550.5" y="752.4" width="1.4" height="1.4" fill="#fff"/>
<rect x="557.5" y="758.3" width="1.4" height="1.4" fill="#fff"/>
<rect x="550.5" y="764.2" width="1.4" height="1.4" fill="#fff"/>
<rect x="557.5" y="770.1" width="1.4" height="1.4" fill="#fff"/>
<path d="M563.3,655 L579.3,700.9" stroke="#000" stroke-width="2.6" fill="none"/>
<path d="M571.9,655 L578.6,671" stroke="#000" stroke-width="1.6" fill="none"/>
<rect x="579.1" y="654.5" width="35.9" height="10" fill="#000"/>
<rect x="581.6" y="655.3" width="6.6" height="2.6" fill="#fff"/>
<rect x="590.8" y="655.3" width="12.5" height="2.6" fill="#fff"/>
<rect x="605.9" y="655.3" width="5.9" height="2.6" fill="#fff"/>
<rect x="578.9" y="664.0" width="36.3" height="7.5" rx="0.5" stroke="#000" stroke-width="3.0" fill="none" stroke-linejoin="round" stroke-linecap="round"/>
<rect x="580.8" y="671.7" width="32.5" height="31.3" rx="1.5" stroke="#000" stroke-width="2.7" fill="none"/>
<line x1="589.1" y1="671.7" x2="589.1" y2="703.0" stroke="#000" stroke-width="2.6"/>
<line x1="603.7" y1="671.7" x2="603.7" y2="703.0" stroke="#000" stroke-width="2.6"/>
<rect x="578.6" y="703.0" width="36.9" height="20.5" rx="0.5" stroke="#000" stroke-width="3.0" fill="none" stroke-linejoin="round" stroke-linecap="round"/>
<clipPath id="hcE"><path d="M578,720 L616,720 L616,1288 L602,1287.5 C594,1288 590,1294 578,1300 Z"/></clipPath>
<clipPath id="hcF"><path d="M578,1317.5 C590,1312 594,1306 602,1305.5 L616,1305.5 L616,1390 L578,1390 Z"/></clipPath>
<g clip-path="url(#hcE)">
<polyline points="583.5,723.0 583.5,724.5 583.9,726.0 584.3,727.5 584.7,729.0 585.2,730.5 585.7,732.0 586.2,733.5 586.7,735.0 587.3,736.5 587.9,738.0 588.5,739.5 589.2,741.0 589.8,742.5 590.5,744.0 591.2,745.5 591.9,747.0 592.6,748.5 593.4,750.0 594.1,751.5 594.9,753.0 595.6,754.5 596.4,756.0 597.2,757.5 597.9,759.0 598.7,760.5 599.4,762.0 600.2,763.5 600.9,765.0 601.7,766.5 602.4,768.0 603.1,769.5 603.8,771.0 604.4,772.5 605.1,774.0 605.7,775.5 606.3,777.0 606.9,778.5 607.5,780.0 608.0,781.5 608.5,783.0 609.0,784.5 609.4,786.0 609.8,787.5 610.2,789.0 610.4,790.5 610.4,792.0 610.4,793.5 610.4,795.0 610.4,796.5 610.4,798.0 610.4,799.5 610.4,801.0 610.4,802.5 610.4,804.0 610.4,805.5 610.4,807.0 610.4,808.5 610.4,810.0 610.4,811.5 610.4,813.0 610.4,814.5 610.4,816.0 610.4,817.5 610.0,819.0 609.6,820.5 609.2,822.0 608.7,823.5 608.2,825.0 607.7,826.5 607.2,828.0 606.6,829.5 606.0,831.0 605.4,832.5 604.7,834.0 604.1,835.5 603.4,837.0 602.7,838.5 602.0,840.0 601.3,841.5 600.5,843.0 599.8,844.5 599.0,846.0 598.3,847.5 597.5,849.0 596.7,850.5 596.0,852.0 595.2,853.5 594.5,855.0 593.7,856.5 593.0,858.0 592.2,859.5 591.5,861.0 590.8,862.5 590.1,864.0 589.5,865.5 588.8,867.0 588.2,868.5 587.6,870.0 587.0,871.5 586.4,873.0 585.9,874.5 585.4,876.0 584.9,877.5 584.5,879.0 584.1,880.5 583.7,882.0 583.5,883.5 583.5,885.0 583.5,886.5 583.5,888.0 583.5,889.5 583.5,891.0 583.5,892.5 583.5,894.0 583.5,895.5 583.5,897.0 583.5,898.5 583.5,900.0 583.5,901.5 583.5,903.0 583.5,904.5 583.5,906.0 583.5,907.5 583.5,909.0 583.5,910.5 583.9,912.0 584.3,913.5 584.7,915.0 585.2,916.5 585.7,918.0 586.2,919.5 586.7,921.0 587.3,922.5 587.9,924.0 588.5,925.5 589.2,927.0 589.8,928.5 590.5,930.0 591.2,931.5 591.9,933.0 592.6,934.5 593.4,936.0 594.1,937.5 594.9,939.0 595.6,940.5 596.4,942.0 597.2,943.5 597.9,945.0 598.7,946.5 599.4,948.0 600.2,949.5 600.9,951.0 601.7,952.5 602.4,954.0 603.1,955.5 603.8,957.0 604.4,958.5 605.1,960.0 605.7,961.5 606.3,963.0 606.9,964.5 607.5,966.0 608.0,967.5 608.5,969.0 609.0,970.5 609.4,972.0 609.8,973.5 610.2,975.0 610.4,976.5 610.4,978.0 610.4,979.5 610.4,981.0 610.4,982.5 610.4,984.0 610.4,985.5 610.4,987.0 610.4,988.5 610.4,990.0 610.4,991.5 610.4,993.0 610.4,994.5 610.4,996.0 610.4,997.5 610.4,999.0 610.4,1000.5 610.4,1002.0 610.4,1003.5 610.0,1005.0 609.6,1006.5 609.2,1008.0 608.7,1009.5 608.2,1011.0 607.7,1012.5 607.2,1014.0 606.6,1015.5 606.0,1017.0 605.4,1018.5 604.7,1020.0 604.1,1021.5 603.4,1023.0 602.7,1024.5 602.0,1026.0 601.3,1027.5 600.5,1029.0 599.8,1030.5 599.0,1032.0 598.3,1033.5 597.5,1035.0 596.7,1036.5 596.0,1038.0 595.2,1039.5 594.5,1041.0 593.7,1042.5 593.0,1044.0 592.2,1045.5 591.5,1047.0 590.8,1048.5 590.1,1050.0 589.5,1051.5 588.8,1053.0 588.2,1054.5 587.6,1056.0 587.0,1057.5 586.4,1059.0 585.9,1060.5 585.4,1062.0 584.9,1063.5 584.5,1065.0 584.1,1066.5 583.7,1068.0 583.5,1069.5 583.5,1071.0 583.5,1072.5 583.5,1074.0 583.5,1075.5 583.5,1077.0 583.5,1078.5 583.5,1080.0 583.5,1081.5 583.5,1083.0 583.5,1084.5 583.5,1086.0 583.5,1087.5 583.5,1089.0 583.5,1090.5 583.5,1092.0 583.5,1093.5 583.5,1095.0 583.5,1096.5 583.9,1098.0 584.3,1099.5 584.7,1101.0 585.2,1102.5 585.7,1104.0 586.2,1105.5 586.7,1107.0 587.3,1108.5 587.9,1110.0 588.5,1111.5 589.2,1113.0 589.8,1114.5 590.5,1116.0 591.2,1117.5 591.9,1119.0 592.6,1120.5 593.4,1122.0 594.1,1123.5 594.9,1125.0 595.6,1126.5 596.4,1128.0 597.2,1129.5 597.9,1131.0 598.7,1132.5 599.4,1134.0 600.2,1135.5 600.9,1137.0 601.7,1138.5 602.4,1140.0 603.1,1141.5 603.8,1143.0 604.4,1144.5 605.1,1146.0 605.7,1147.5 606.3,1149.0 606.9,1150.5 607.5,1152.0 608.0,1153.5 608.5,1155.0 609.0,1156.5 609.4,1158.0 609.8,1159.5 610.2,1161.0 610.4,1162.5 610.4,1164.0 610.4,1165.5 610.4,1167.0 610.4,1168.5 610.4,1170.0 610.4,1171.5 610.4,1173.0 610.4,1174.5 610.4,1176.0 610.4,1177.5 610.4,1179.0 610.4,1180.5 610.4,1182.0 610.4,1183.5 610.4,1185.0 610.4,1186.5 610.4,1188.0 610.4,1189.5 610.0,1191.0 609.6,1192.5 609.2,1194.0 608.7,1195.5 608.2,1197.0 607.7,1198.5 607.2,1200.0 606.6,1201.5 606.0,1203.0 605.4,1204.5 604.7,1206.0 604.1,1207.5 603.4,1209.0 602.7,1210.5 602.0,1212.0 601.3,1213.5 600.5,1215.0 599.8,1216.5 599.0,1218.0 598.3,1219.5 597.5,1221.0 596.7,1222.5 596.0,1224.0 595.2,1225.5 594.5,1227.0 593.7,1228.5 593.0,1230.0 592.2,1231.5 591.5,1233.0 590.8,1234.5 590.1,1236.0 589.5,1237.5 588.8,1239.0 588.2,1240.5 587.6,1242.0 587.0,1243.5 586.4,1245.0 585.9,1246.5 585.4,1248.0 584.9,1249.5 584.5,1251.0 584.1,1252.5 583.7,1254.0 583.5,1255.5 583.5,1257.0 583.5,1258.5 583.5,1260.0 583.5,1261.5 583.5,1263.0 583.5,1264.5 583.5,1266.0 583.5,1267.5 583.5,1269.0 583.5,1270.5 583.5,1272.0 583.5,1273.5 583.5,1275.0 583.5,1276.5 583.5,1278.0 583.5,1279.5 583.5,1281.0 583.5,1282.5 583.9,1284.0 584.3,1285.5 584.7,1287.0 585.2,1288.5 585.7,1290.0 586.2,1291.5 586.7,1293.0 587.3,1294.5 587.9,1296.0 588.5,1297.5 589.2,1299.0" stroke="#111" stroke-width="1.0" fill="none"/>
<polyline points="603.1,723.0 603.8,724.5 604.4,726.0 605.1,727.5 605.7,729.0 606.3,730.5 606.9,732.0 607.5,733.5 608.0,735.0 608.5,736.5 609.0,738.0 609.4,739.5 609.8,741.0 610.2,742.5 610.4,744.0 610.4,745.5 610.4,747.0 610.4,748.5 610.4,750.0 610.4,751.5 610.4,753.0 610.4,754.5 610.4,756.0 610.4,757.5 610.4,759.0 610.4,760.5 610.4,762.0 610.4,763.5 610.4,765.0 610.4,766.5 610.4,768.0 610.4,769.5 610.4,771.0 610.0,772.5 609.6,774.0 609.2,775.5 608.7,777.0 608.2,778.5 607.7,780.0 607.2,781.5 606.6,783.0 606.0,784.5 605.4,786.0 604.7,787.5 604.1,789.0 603.4,790.5 602.7,792.0 602.0,793.5 601.3,795.0 600.5,796.5 599.8,798.0 599.0,799.5 598.3,801.0 597.5,802.5 596.7,804.0 596.0,805.5 595.2,807.0 594.5,808.5 593.7,810.0 593.0,811.5 592.2,813.0 591.5,814.5 590.8,816.0 590.1,817.5 589.5,819.0 588.8,820.5 588.2,822.0 587.6,823.5 587.0,825.0 586.4,826.5 585.9,828.0 585.4,829.5 584.9,831.0 584.5,832.5 584.1,834.0 583.7,835.5 583.5,837.0 583.5,838.5 583.5,840.0 583.5,841.5 583.5,843.0 583.5,844.5 583.5,846.0 583.5,847.5 583.5,849.0 583.5,850.5 583.5,852.0 583.5,853.5 583.5,855.0 583.5,856.5 583.5,858.0 583.5,859.5 583.5,861.0 583.5,862.5 583.5,864.0 583.9,865.5 584.3,867.0 584.7,868.5 585.2,870.0 585.7,871.5 586.2,873.0 586.7,874.5 587.3,876.0 587.9,877.5 588.5,879.0 589.2,880.5 589.8,882.0 590.5,883.5 591.2,885.0 591.9,886.5 592.6,888.0 593.4,889.5 594.1,891.0 594.9,892.5 595.6,894.0 596.4,895.5 597.2,897.0 597.9,898.5 598.7,900.0 599.4,901.5 600.2,903.0 600.9,904.5 601.7,906.0 602.4,907.5 603.1,909.0 603.8,910.5 604.4,912.0 605.1,913.5 605.7,915.0 606.3,916.5 606.9,918.0 607.5,919.5 608.0,921.0 608.5,922.5 609.0,924.0 609.4,925.5 609.8,927.0 610.2,928.5 610.4,930.0 610.4,931.5 610.4,933.0 610.4,934.5 610.4,936.0 610.4,937.5 610.4,939.0 610.4,940.5 610.4,942.0 610.4,943.5 610.4,945.0 610.4,946.5 610.4,948.0 610.4,949.5 610.4,951.0 610.4,952.5 610.4,954.0 610.4,955.5 610.4,957.0 610.0,958.5 609.6,960.0 609.2,961.5 608.7,963.0 608.2,964.5 607.7,966.0 607.2,967.5 606.6,969.0 606.0,970.5 605.4,972.0 604.7,973.5 604.1,975.0 603.4,976.5 602.7,978.0 602.0,979.5 601.3,981.0 600.5,982.5 599.8,984.0 599.0,985.5 598.3,987.0 597.5,988.5 596.7,990.0 596.0,991.5 595.2,993.0 594.5,994.5 593.7,996.0 593.0,997.5 592.2,999.0 591.5,1000.5 590.8,1002.0 590.1,1003.5 589.5,1005.0 588.8,1006.5 588.2,1008.0 587.6,1009.5 587.0,1011.0 586.4,1012.5 585.9,1014.0 585.4,1015.5 584.9,1017.0 584.5,1018.5 584.1,1020.0 583.7,1021.5 583.5,1023.0 583.5,1024.5 583.5,1026.0 583.5,1027.5 583.5,1029.0 583.5,1030.5 583.5,1032.0 583.5,1033.5 583.5,1035.0 583.5,1036.5 583.5,1038.0 583.5,1039.5 583.5,1041.0 583.5,1042.5 583.5,1044.0 583.5,1045.5 583.5,1047.0 583.5,1048.5 583.5,1050.0 583.9,1051.5 584.3,1053.0 584.7,1054.5 585.2,1056.0 585.7,1057.5 586.2,1059.0 586.7,1060.5 587.3,1062.0 587.9,1063.5 588.5,1065.0 589.2,1066.5 589.8,1068.0 590.5,1069.5 591.2,1071.0 591.9,1072.5 592.6,1074.0 593.4,1075.5 594.1,1077.0 594.9,1078.5 595.6,1080.0 596.4,1081.5 597.2,1083.0 597.9,1084.5 598.7,1086.0 599.4,1087.5 600.2,1089.0 600.9,1090.5 601.7,1092.0 602.4,1093.5 603.1,1095.0 603.8,1096.5 604.4,1098.0 605.1,1099.5 605.7,1101.0 606.3,1102.5 606.9,1104.0 607.5,1105.5 608.0,1107.0 608.5,1108.5 609.0,1110.0 609.4,1111.5 609.8,1113.0 610.2,1114.5 610.4,1116.0 610.4,1117.5 610.4,1119.0 610.4,1120.5 610.4,1122.0 610.4,1123.5 610.4,1125.0 610.4,1126.5 610.4,1128.0 610.4,1129.5 610.4,1131.0 610.4,1132.5 610.4,1134.0 610.4,1135.5 610.4,1137.0 610.4,1138.5 610.4,1140.0 610.4,1141.5 610.4,1143.0 610.0,1144.5 609.6,1146.0 609.2,1147.5 608.7,1149.0 608.2,1150.5 607.7,1152.0 607.2,1153.5 606.6,1155.0 606.0,1156.5 605.4,1158.0 604.7,1159.5 604.1,1161.0 603.4,1162.5 602.7,1164.0 602.0,1165.5 601.3,1167.0 600.5,1168.5 599.8,1170.0 599.0,1171.5 598.3,1173.0 597.5,1174.5 596.7,1176.0 596.0,1177.5 595.2,1179.0 594.5,1180.5 593.7,1182.0 593.0,1183.5 592.2,1185.0 591.5,1186.5 590.8,1188.0 590.1,1189.5 589.5,1191.0 588.8,1192.5 588.2,1194.0 587.6,1195.5 587.0,1197.0 586.4,1198.5 585.9,1200.0 585.4,1201.5 584.9,1203.0 584.5,1204.5 584.1,1206.0 583.7,1207.5 583.5,1209.0 583.5,1210.5 583.5,1212.0 583.5,1213.5 583.5,1215.0 583.5,1216.5 583.5,1218.0 583.5,1219.5 583.5,1221.0 583.5,1222.5 583.5,1224.0 583.5,1225.5 583.5,1227.0 583.5,1228.5 583.5,1230.0 583.5,1231.5 583.5,1233.0 583.5,1234.5 583.5,1236.0 583.9,1237.5 584.3,1239.0 584.7,1240.5 585.2,1242.0 585.7,1243.5 586.2,1245.0 586.7,1246.5 587.3,1248.0 587.9,1249.5 588.5,1251.0 589.2,1252.5 589.8,1254.0 590.5,1255.5 591.2,1257.0 591.9,1258.5 592.6,1260.0 593.4,1261.5 594.1,1263.0 594.9,1264.5 595.6,1266.0 596.4,1267.5 597.2,1269.0 597.9,1270.5 598.7,1272.0 599.4,1273.5 600.2,1275.0 600.9,1276.5 601.7,1278.0 602.4,1279.5 603.1,1281.0 603.8,1282.5 604.4,1284.0 605.1,1285.5 605.7,1287.0 606.3,1288.5 606.9,1290.0 607.5,1291.5 608.0,1293.0 608.5,1294.5 609.0,1296.0 609.4,1297.5 609.8,1299.0" stroke="#111" stroke-width="1.0" fill="none"/>
<polyline points="610.4,723.0 610.4,724.5 610.0,726.0 609.6,727.5 609.2,729.0 608.7,730.5 608.2,732.0 607.7,733.5 607.2,735.0 606.6,736.5 606.0,738.0 605.4,739.5 604.7,741.0 604.1,742.5 603.4,744.0 602.7,745.5 602.0,747.0 601.3,748.5 600.5,750.0 599.8,751.5 599.0,753.0 598.3,754.5 597.5,756.0 596.7,757.5 596.0,759.0 595.2,760.5 594.5,762.0 593.7,763.5 593.0,765.0 592.2,766.5 591.5,768.0 590.8,769.5 590.1,771.0 589.5,772.5 588.8,774.0 588.2,775.5 587.6,777.0 587.0,778.5 586.4,780.0 585.9,781.5 585.4,783.0 584.9,784.5 584.5,786.0 584.1,787.5 583.7,789.0 583.5,790.5 583.5,792.0 583.5,793.5 583.5,795.0 583.5,796.5 583.5,798.0 583.5,799.5 583.5,801.0 583.5,802.5 583.5,804.0 583.5,805.5 583.5,807.0 583.5,808.5 583.5,810.0 583.5,811.5 583.5,813.0 583.5,814.5 583.5,816.0 583.5,817.5 583.9,819.0 584.3,820.5 584.7,822.0 585.2,823.5 585.7,825.0 586.2,826.5 586.7,828.0 587.3,829.5 587.9,831.0 588.5,832.5 589.2,834.0 589.8,835.5 590.5,837.0 591.2,838.5 591.9,840.0 592.6,841.5 593.4,843.0 594.1,844.5 594.9,846.0 595.6,847.5 596.4,849.0 597.2,850.5 597.9,852.0 598.7,853.5 599.4,855.0 600.2,856.5 600.9,858.0 601.7,859.5 602.4,861.0 603.1,862.5 603.8,864.0 604.4,865.5 605.1,867.0 605.7,868.5 606.3,870.0 606.9,871.5 607.5,873.0 608.0,874.5 608.5,876.0 609.0,877.5 609.4,879.0 609.8,880.5 610.2,882.0 610.4,883.5 610.4,885.0 610.4,886.5 610.4,888.0 610.4,889.5 610.4,891.0 610.4,892.5 610.4,894.0 610.4,895.5 610.4,897.0 610.4,898.5 610.4,900.0 610.4,901.5 610.4,903.0 610.4,904.5 610.4,906.0 610.4,907.5 610.4,909.0 610.4,910.5 610.0,912.0 609.6,913.5 609.2,915.0 608.7,916.5 608.2,918.0 607.7,919.5 607.2,921.0 606.6,922.5 606.0,924.0 605.4,925.5 604.7,927.0 604.1,928.5 603.4,930.0 602.7,931.5 602.0,933.0 601.3,934.5 600.5,936.0 599.8,937.5 599.0,939.0 598.3,940.5 597.5,942.0 596.7,943.5 596.0,945.0 595.2,946.5 594.5,948.0 593.7,949.5 593.0,951.0 592.2,952.5 591.5,954.0 590.8,955.5 590.1,957.0 589.5,958.5 588.8,960.0 588.2,961.5 587.6,963.0 587.0,964.5 586.4,966.0 585.9,967.5 585.4,969.0 584.9,970.5 584.5,972.0 584.1,973.5 583.7,975.0 583.5,976.5 583.5,978.0 583.5,979.5 583.5,981.0 583.5,982.5 583.5,984.0 583.5,985.5 583.5,987.0 583.5,988.5 583.5,990.0 583.5,991.5 583.5,993.0 583.5,994.5 583.5,996.0 583.5,997.5 583.5,999.0 583.5,1000.5 583.5,1002.0 583.5,1003.5 583.9,1005.0 584.3,1006.5 584.7,1008.0 585.2,1009.5 585.7,1011.0 586.2,1012.5 586.7,1014.0 587.3,1015.5 587.9,1017.0 588.5,1018.5 589.2,1020.0 589.8,1021.5 590.5,1023.0 591.2,1024.5 591.9,1026.0 592.6,1027.5 593.4,1029.0 594.1,1030.5 594.9,1032.0 595.6,1033.5 596.4,1035.0 597.2,1036.5 597.9,1038.0 598.7,1039.5 599.4,1041.0 600.2,1042.5 600.9,1044.0 601.7,1045.5 602.4,1047.0 603.1,1048.5 603.8,1050.0 604.4,1051.5 605.1,1053.0 605.7,1054.5 606.3,1056.0 606.9,1057.5 607.5,1059.0 608.0,1060.5 608.5,1062.0 609.0,1063.5 609.4,1065.0 609.8,1066.5 610.2,1068.0 610.4,1069.5 610.4,1071.0 610.4,1072.5 610.4,1074.0 610.4,1075.5 610.4,1077.0 610.4,1078.5 610.4,1080.0 610.4,1081.5 610.4,1083.0 610.4,1084.5 610.4,1086.0 610.4,1087.5 610.4,1089.0 610.4,1090.5 610.4,1092.0 610.4,1093.5 610.4,1095.0 610.4,1096.5 610.0,1098.0 609.6,1099.5 609.2,1101.0 608.7,1102.5 608.2,1104.0 607.7,1105.5 607.2,1107.0 606.6,1108.5 606.0,1110.0 605.4,1111.5 604.7,1113.0 604.1,1114.5 603.4,1116.0 602.7,1117.5 602.0,1119.0 601.3,1120.5 600.5,1122.0 599.8,1123.5 599.0,1125.0 598.3,1126.5 597.5,1128.0 596.7,1129.5 596.0,1131.0 595.2,1132.5 594.5,1134.0 593.7,1135.5 593.0,1137.0 592.2,1138.5 591.5,1140.0 590.8,1141.5 590.1,1143.0 589.5,1144.5 588.8,1146.0 588.2,1147.5 587.6,1149.0 587.0,1150.5 586.4,1152.0 585.9,1153.5 585.4,1155.0 584.9,1156.5 584.5,1158.0 584.1,1159.5 583.7,1161.0 583.5,1162.5 583.5,1164.0 583.5,1165.5 583.5,1167.0 583.5,1168.5 583.5,1170.0 583.5,1171.5 583.5,1173.0 583.5,1174.5 583.5,1176.0 583.5,1177.5 583.5,1179.0 583.5,1180.5 583.5,1182.0 583.5,1183.5 583.5,1185.0 583.5,1186.5 583.5,1188.0 583.5,1189.5 583.9,1191.0 584.3,1192.5 584.7,1194.0 585.2,1195.5 585.7,1197.0 586.2,1198.5 586.7,1200.0 587.3,1201.5 587.9,1203.0 588.5,1204.5 589.2,1206.0 589.8,1207.5 590.5,1209.0 591.2,1210.5 591.9,1212.0 592.6,1213.5 593.4,1215.0 594.1,1216.5 594.9,1218.0 595.6,1219.5 596.4,1221.0 597.2,1222.5 597.9,1224.0 598.7,1225.5 599.4,1227.0 600.2,1228.5 600.9,1230.0 601.7,1231.5 602.4,1233.0 603.1,1234.5 603.8,1236.0 604.4,1237.5 605.1,1239.0 605.7,1240.5 606.3,1242.0 606.9,1243.5 607.5,1245.0 608.0,1246.5 608.5,1248.0 609.0,1249.5 609.4,1251.0 609.8,1252.5 610.2,1254.0 610.4,1255.5 610.4,1257.0 610.4,1258.5 610.4,1260.0 610.4,1261.5 610.4,1263.0 610.4,1264.5 610.4,1266.0 610.4,1267.5 610.4,1269.0 610.4,1270.5 610.4,1272.0 610.4,1273.5 610.4,1275.0 610.4,1276.5 610.4,1278.0 610.4,1279.5 610.4,1281.0 610.4,1282.5 610.0,1284.0 609.6,1285.5 609.2,1287.0 608.7,1288.5 608.2,1290.0 607.7,1291.5 607.2,1293.0 606.6,1294.5 606.0,1296.0 605.4,1297.5 604.7,1299.0" stroke="#111" stroke-width="1.0" fill="none"/>
<polyline points="590.8,723.0 590.1,724.5 589.5,726.0 588.8,727.5 588.2,729.0 587.6,730.5 587.0,732.0 586.4,733.5 585.9,735.0 585.4,736.5 584.9,738.0 584.5,739.5 584.1,741.0 583.7,742.5 583.5,744.0 583.5,745.5 583.5,747.0 583.5,748.5 583.5,750.0 583.5,751.5 583.5,753.0 583.5,754.5 583.5,756.0 583.5,757.5 583.5,759.0 583.5,760.5 583.5,762.0 583.5,763.5 583.5,765.0 583.5,766.5 583.5,768.0 583.5,769.5 583.5,771.0 583.9,772.5 584.3,774.0 584.7,775.5 585.2,777.0 585.7,778.5 586.2,780.0 586.7,781.5 587.3,783.0 587.9,784.5 588.5,786.0 589.2,787.5 589.8,789.0 590.5,790.5 591.2,792.0 591.9,793.5 592.6,795.0 593.4,796.5 594.1,798.0 594.9,799.5 595.6,801.0 596.4,802.5 597.2,804.0 597.9,805.5 598.7,807.0 599.4,808.5 600.2,810.0 600.9,811.5 601.7,813.0 602.4,814.5 603.1,816.0 603.8,817.5 604.4,819.0 605.1,820.5 605.7,822.0 606.3,823.5 606.9,825.0 607.5,826.5 608.0,828.0 608.5,829.5 609.0,831.0 609.4,832.5 609.8,834.0 610.2,835.5 610.4,837.0 610.4,838.5 610.4,840.0 610.4,841.5 610.4,843.0 610.4,844.5 610.4,846.0 610.4,847.5 610.4,849.0 610.4,850.5 610.4,852.0 610.4,853.5 610.4,855.0 610.4,856.5 610.4,858.0 610.4,859.5 610.4,861.0 610.4,862.5 610.4,864.0 610.0,865.5 609.6,867.0 609.2,868.5 608.7,870.0 608.2,871.5 607.7,873.0 607.2,874.5 606.6,876.0 606.0,877.5 605.4,879.0 604.7,880.5 604.1,882.0 603.4,883.5 602.7,885.0 602.0,886.5 601.3,888.0 600.5,889.5 599.8,891.0 599.0,892.5 598.3,894.0 597.5,895.5 596.7,897.0 596.0,898.5 595.2,900.0 594.5,901.5 593.7,903.0 593.0,904.5 592.2,906.0 591.5,907.5 590.8,909.0 590.1,910.5 589.5,912.0 588.8,913.5 588.2,915.0 587.6,916.5 587.0,918.0 586.4,919.5 585.9,921.0 585.4,922.5 584.9,924.0 584.5,925.5 584.1,927.0 583.7,928.5 583.5,930.0 583.5,931.5 583.5,933.0 583.5,934.5 583.5,936.0 583.5,937.5 583.5,939.0 583.5,940.5 583.5,942.0 583.5,943.5 583.5,945.0 583.5,946.5 583.5,948.0 583.5,949.5 583.5,951.0 583.5,952.5 583.5,954.0 583.5,955.5 583.5,957.0 583.9,958.5 584.3,960.0 584.7,961.5 585.2,963.0 585.7,964.5 586.2,966.0 586.7,967.5 587.3,969.0 587.9,970.5 588.5,972.0 589.2,973.5 589.8,975.0 590.5,976.5 591.2,978.0 591.9,979.5 592.6,981.0 593.4,982.5 594.1,984.0 594.9,985.5 595.6,987.0 596.4,988.5 597.2,990.0 597.9,991.5 598.7,993.0 599.4,994.5 600.2,996.0 600.9,997.5 601.7,999.0 602.4,1000.5 603.1,1002.0 603.8,1003.5 604.4,1005.0 605.1,1006.5 605.7,1008.0 606.3,1009.5 606.9,1011.0 607.5,1012.5 608.0,1014.0 608.5,1015.5 609.0,1017.0 609.4,1018.5 609.8,1020.0 610.2,1021.5 610.4,1023.0 610.4,1024.5 610.4,1026.0 610.4,1027.5 610.4,1029.0 610.4,1030.5 610.4,1032.0 610.4,1033.5 610.4,1035.0 610.4,1036.5 610.4,1038.0 610.4,1039.5 610.4,1041.0 610.4,1042.5 610.4,1044.0 610.4,1045.5 610.4,1047.0 610.4,1048.5 610.4,1050.0 610.0,1051.5 609.6,1053.0 609.2,1054.5 608.7,1056.0 608.2,1057.5 607.7,1059.0 607.2,1060.5 606.6,1062.0 606.0,1063.5 605.4,1065.0 604.7,1066.5 604.1,1068.0 603.4,1069.5 602.7,1071.0 602.0,1072.5 601.3,1074.0 600.5,1075.5 599.8,1077.0 599.0,1078.5 598.3,1080.0 597.5,1081.5 596.7,1083.0 596.0,1084.5 595.2,1086.0 594.5,1087.5 593.7,1089.0 593.0,1090.5 592.2,1092.0 591.5,1093.5 590.8,1095.0 590.1,1096.5 589.5,1098.0 588.8,1099.5 588.2,1101.0 587.6,1102.5 587.0,1104.0 586.4,1105.5 585.9,1107.0 585.4,1108.5 584.9,1110.0 584.5,1111.5 584.1,1113.0 583.7,1114.5 583.5,1116.0 583.5,1117.5 583.5,1119.0 583.5,1120.5 583.5,1122.0 583.5,1123.5 583.5,1125.0 583.5,1126.5 583.5,1128.0 583.5,1129.5 583.5,1131.0 583.5,1132.5 583.5,1134.0 583.5,1135.5 583.5,1137.0 583.5,1138.5 583.5,1140.0 583.5,1141.5 583.5,1143.0 583.9,1144.5 584.3,1146.0 584.7,1147.5 585.2,1149.0 585.7,1150.5 586.2,1152.0 586.7,1153.5 587.3,1155.0 587.9,1156.5 588.5,1158.0 589.2,1159.5 589.8,1161.0 590.5,1162.5 591.2,1164.0 591.9,1165.5 592.6,1167.0 593.4,1168.5 594.1,1170.0 594.9,1171.5 595.6,1173.0 596.4,1174.5 597.2,1176.0 597.9,1177.5 598.7,1179.0 599.4,1180.5 600.2,1182.0 600.9,1183.5 601.7,1185.0 602.4,1186.5 603.1,1188.0 603.8,1189.5 604.4,1191.0 605.1,1192.5 605.7,1194.0 606.3,1195.5 606.9,1197.0 607.5,1198.5 608.0,1200.0 608.5,1201.5 609.0,1203.0 609.4,1204.5 609.8,1206.0 610.2,1207.5 610.4,1209.0 610.4,1210.5 610.4,1212.0 610.4,1213.5 610.4,1215.0 610.4,1216.5 610.4,1218.0 610.4,1219.5 610.4,1221.0 610.4,1222.5 610.4,1224.0 610.4,1225.5 610.4,1227.0 610.4,1228.5 610.4,1230.0 610.4,1231.5 610.4,1233.0 610.4,1234.5 610.4,1236.0 610.0,1237.5 609.6,1239.0 609.2,1240.5 608.7,1242.0 608.2,1243.5 607.7,1245.0 607.2,1246.5 606.6,1248.0 606.0,1249.5 605.4,1251.0 604.7,1252.5 604.1,1254.0 603.4,1255.5 602.7,1257.0 602.0,1258.5 601.3,1260.0 600.5,1261.5 599.8,1263.0 599.0,1264.5 598.3,1266.0 597.5,1267.5 596.7,1269.0 596.0,1270.5 595.2,1272.0 594.5,1273.5 593.7,1275.0 593.0,1276.5 592.2,1278.0 591.5,1279.5 590.8,1281.0 590.1,1282.5 589.5,1284.0 588.8,1285.5 588.2,1287.0 587.6,1288.5 587.0,1290.0 586.4,1291.5 585.9,1293.0 585.4,1294.5 584.9,1296.0 584.5,1297.5 584.1,1299.0" stroke="#111" stroke-width="1.0" fill="none"/>
<line x1="581.5" y1="723.0" x2="581.5" y2="1300.0" stroke="#000" stroke-width="2.6"/>
<line x1="612.4" y1="723.0" x2="612.4" y2="1300.0" stroke="#000" stroke-width="3.4"/>
</g>
<g clip-path="url(#hcF)">
<polyline points="583.5,1300.0 583.5,1301.5 583.5,1303.0 583.5,1304.5 583.8,1306.0 584.2,1307.5 584.6,1309.0 585.0,1310.5 585.5,1312.0 586.0,1313.5 586.6,1315.0 587.1,1316.5 587.7,1318.0 588.3,1319.5 589.0,1321.0 589.6,1322.5 590.3,1324.0 591.0,1325.5 591.7,1327.0 592.4,1328.5 593.2,1330.0 593.9,1331.5 594.7,1333.0 595.4,1334.5 596.2,1336.0 597.0,1337.5 597.7,1339.0 598.5,1340.5 599.2,1342.0 600.0,1343.5 600.7,1345.0 601.5,1346.5 602.2,1348.0 602.9,1349.5 603.6,1351.0 604.3,1352.5 604.9,1354.0 605.6,1355.5 606.2,1357.0 606.8,1358.5 607.3,1360.0 607.9,1361.5 608.4,1363.0 608.9,1364.5 609.3,1366.0 609.7,1367.5 610.1,1369.0 610.4,1370.5 610.4,1372.0 610.4,1373.5 610.4,1375.0 610.4,1376.5 610.4,1378.0 610.4,1379.5 610.4,1381.0 610.4,1382.5 610.4,1384.0 610.4,1385.5" stroke="#111" stroke-width="1.0" fill="none"/>
<polyline points="601.5,1300.0 602.2,1301.5 602.9,1303.0 603.6,1304.5 604.3,1306.0 604.9,1307.5 605.6,1309.0 606.2,1310.5 606.8,1312.0 607.3,1313.5 607.9,1315.0 608.4,1316.5 608.9,1318.0 609.3,1319.5 609.7,1321.0 610.1,1322.5 610.4,1324.0 610.4,1325.5 610.4,1327.0 610.4,1328.5 610.4,1330.0 610.4,1331.5 610.4,1333.0 610.4,1334.5 610.4,1336.0 610.4,1337.5 610.4,1339.0 610.4,1340.5 610.4,1342.0 610.4,1343.5 610.4,1345.0 610.4,1346.5 610.4,1348.0 610.4,1349.5 610.4,1351.0 610.1,1352.5 609.7,1354.0 609.3,1355.5 608.9,1357.0 608.4,1358.5 607.9,1360.0 607.3,1361.5 606.8,1363.0 606.2,1364.5 605.6,1366.0 604.9,1367.5 604.3,1369.0 603.6,1370.5 602.9,1372.0 602.2,1373.5 601.5,1375.0 600.7,1376.5 600.0,1378.0 599.2,1379.5 598.5,1381.0 597.7,1382.5 597.0,1384.0 596.2,1385.5" stroke="#111" stroke-width="1.0" fill="none"/>
<polyline points="610.4,1300.0 610.4,1301.5 610.4,1303.0 610.4,1304.5 610.1,1306.0 609.7,1307.5 609.3,1309.0 608.9,1310.5 608.4,1312.0 607.9,1313.5 607.3,1315.0 606.8,1316.5 606.2,1318.0 605.6,1319.5 604.9,1321.0 604.3,1322.5 603.6,1324.0 602.9,1325.5 602.2,1327.0 601.5,1328.5 600.7,1330.0 600.0,1331.5 599.2,1333.0 598.5,1334.5 597.7,1336.0 597.0,1337.5 596.2,1339.0 595.4,1340.5 594.7,1342.0 593.9,1343.5 593.2,1345.0 592.4,1346.5 591.7,1348.0 591.0,1349.5 590.3,1351.0 589.6,1352.5 589.0,1354.0 588.3,1355.5 587.7,1357.0 587.1,1358.5 586.6,1360.0 586.0,1361.5 585.5,1363.0 585.0,1364.5 584.6,1366.0 584.2,1367.5 583.8,1369.0 583.5,1370.5 583.5,1372.0 583.5,1373.5 583.5,1375.0 583.5,1376.5 583.5,1378.0 583.5,1379.5 583.5,1381.0 583.5,1382.5 583.5,1384.0 583.5,1385.5" stroke="#111" stroke-width="1.0" fill="none"/>
<polyline points="592.4,1300.0 591.7,1301.5 591.0,1303.0 590.3,1304.5 589.6,1306.0 589.0,1307.5 588.3,1309.0 587.7,1310.5 587.1,1312.0 586.6,1313.5 586.0,1315.0 585.5,1316.5 585.0,1318.0 584.6,1319.5 584.2,1321.0 583.8,1322.5 583.5,1324.0 583.5,1325.5 583.5,1327.0 583.5,1328.5 583.5,1330.0 583.5,1331.5 583.5,1333.0 583.5,1334.5 583.5,1336.0 583.5,1337.5 583.5,1339.0 583.5,1340.5 583.5,1342.0 583.5,1343.5 583.5,1345.0 583.5,1346.5 583.5,1348.0 583.5,1349.5 583.5,1351.0 583.8,1352.5 584.2,1354.0 584.6,1355.5 585.0,1357.0 585.5,1358.5 586.0,1360.0 586.6,1361.5 587.1,1363.0 587.7,1364.5 588.3,1366.0 589.0,1367.5 589.6,1369.0 590.3,1370.5 591.0,1372.0 591.7,1373.5 592.4,1375.0 593.2,1376.5 593.9,1378.0 594.7,1379.5 595.4,1381.0 596.2,1382.5 597.0,1384.0 597.7,1385.5" stroke="#111" stroke-width="1.0" fill="none"/>
<line x1="581.5" y1="1300.0" x2="581.5" y2="1386.0" stroke="#000" stroke-width="2.6"/>
<line x1="612.4" y1="1300.0" x2="612.4" y2="1386.0" stroke="#000" stroke-width="3.4"/>
</g>
<path d="M581.5,1298.5 C590,1294 594,1288 602,1287.5 L612.4,1288" stroke="#000" stroke-width="3.0" fill="none" stroke-linejoin="round" stroke-linecap="round"/>
<path d="M581.5,1316.5 C590,1312 594,1306 602,1305.5 L612.4,1305.8" stroke="#000" stroke-width="3.0" fill="none" stroke-linejoin="round" stroke-linecap="round"/>
<rect x="502.4" y="774.7" width="113.5" height="14.7" rx="1.5" stroke="#000" stroke-width="2.7" fill="#fff"/>
<line x1="502.4" y1="782.2" x2="615.9" y2="782.2" stroke="#000" stroke-width="3.0" fill="none" stroke-linejoin="round" stroke-linecap="round"/>
<rect x="540.8" y="789.4" width="25.6" height="31.0" rx="1" stroke="#000" stroke-width="3.0" fill="none" stroke-linejoin="round" stroke-linecap="round"/>
<line x1="553.4" y1="789.4" x2="553.4" y2="820.4" stroke="#000" stroke-width="3.0" fill="none" stroke-linejoin="round" stroke-linecap="round"/>
<rect x="579.4" y="1384.8" width="33.5" height="16.0" rx="0.5" stroke="#000" stroke-width="3.0" fill="none" stroke-linejoin="round" stroke-linecap="round"/>
<line x1="579.9" y1="1399.9" x2="579.9" y2="1431.3" stroke="#000" stroke-width="2.8"/>
<line x1="612.4" y1="1399.9" x2="612.4" y2="1431.3" stroke="#000" stroke-width="2.8"/>
<rect x="581.3" y="1401.0" width="6.5" height="30.2" rx="1.5" stroke="#000" stroke-width="2.2" fill="none"/>
<rect x="591.1" y="1401.0" width="10.5" height="30.2" rx="1.5" stroke="#000" stroke-width="2.2" fill="none"/>
<rect x="604.1" y="1401.0" width="7.6" height="30.2" rx="1.5" stroke="#000" stroke-width="2.2" fill="none"/>
<rect x="579.4" y="1431.3" width="33.5" height="9.5" rx="0.5" stroke="#000" stroke-width="3.0" fill="none" stroke-linejoin="round" stroke-linecap="round"/>
<rect x="565.5" y="1441.6" width="61.3" height="38.4" rx="2.5" stroke="#000" stroke-width="3.0" fill="none" stroke-linejoin="round" stroke-linecap="round"/>
<line x1="596.3" y1="1441.7" x2="596.3" y2="1479.5" stroke="#000" stroke-width="3.0" fill="none" stroke-linejoin="round" stroke-linecap="round"/>
<g fill="#000">
<g transform="translate(0,0) rotate(0)"><text transform="translate(233.16,93.80) scale(1.058,1)" font-size="69.5">0</text><text transform="translate(276.46,93.80) scale(0.962,1)" font-size="69.5">4</text><text transform="translate(318.36,93.80) scale(0.965,1)" font-size="69.5">4</text></g>
<g transform="translate(0,0) rotate(0)"><text transform="translate(238.12,576.50) scale(1.073,1)" font-size="69.5">0</text><text transform="translate(280.27,576.50) scale(1.019,1)" font-size="69.5">5</text><text transform="translate(322.47,576.50) scale(0.980,1)" font-size="69.5">0</text></g>
<g transform="translate(0,0) rotate(0)"><text transform="translate(220.02,731.80) scale(1.073,1)" font-size="69.5">0</text><text transform="translate(262.12,731.80) scale(1.035,1)" font-size="69.5">3</text><text transform="translate(305.15,731.80) scale(0.968,1)" font-size="69.5">4</text></g>
<g transform="translate(0,0) rotate(0)"><path d="M723.7,48.0 L723.7,96.0 L717.4,96.0 L717.4,61.8 L705.6,61.8 L705.6,56.6 Q712.6,56.2 714.9,48.0 Z" fill="#000"/><path d="M765.6,48.0 L765.6,96.0 L759.3,96.0 L759.3,61.8 L747.6,61.8 L747.6,56.6 Q754.6,56.2 756.8,48.0 Z" fill="#000"/><text transform="translate(781.22,96.00) scale(1.089,1)" font-size="69.5">9</text></g>
<g transform="translate(0,0) rotate(0)"><path d="M676.0,1395.8 L676.0,1443.8 L669.7,1443.8 L669.7,1409.6 L658.7,1409.6 L658.7,1404.4 Q665.7,1404.0 667.2,1395.8 Z" fill="#000"/><text transform="translate(692.27,1443.80) scale(1.073,1)" font-size="69.5">9</text></g>
<g transform="translate(0,0) rotate(0)"><text transform="translate(462.31,873.00) scale(1.004,1)" font-size="69.5">8</text></g>
<g transform="translate(0,0) rotate(0)"><text transform="translate(661.69,1548.00) scale(0.808,1)" font-size="69.5">G</text><text transform="translate(703.02,1548.00) scale(1.071,1)" font-size="69.5">3</text><text transform="translate(788.61,1548.00) scale(1.038,1)" font-size="69.5">8</text><text transform="translate(872.48,1548.00) scale(0.940,1)" font-size="69.5">F</text></g>
<g transform="translate(0,0) rotate(-90)"><path d="M-450.7,386.1 L-450.7,434.1 L-457.0,434.1 L-457.0,399.9 L-467.9,399.9 L-467.9,394.7 Q-460.9,394.3 -459.5,386.1 Z" fill="#000"/><text transform="translate(-435.01,434.10) scale(1.010,1)" font-size="69.5">5</text><text transform="translate(-391.96,434.10) scale(0.979,1)" font-size="69.5">4</text></g>
<g transform="translate(0,0) rotate(-90)"><text transform="translate(-548.73,1400.10) scale(1.073,1)" font-size="69.5">9</text><text transform="translate(-505.02,1400.10) scale(0.951,1)" font-size="69.5">4</text></g>
<g transform="translate(0,0) rotate(-90)"><text transform="translate(-1108.85,416.70) scale(0.968,1)" font-size="69.5">4</text><text transform="translate(-1068.65,416.70) scale(1.051,1)" font-size="69.5">2</text><text transform="translate(-1027.43,416.70) scale(1.019,1)" font-size="69.5">5</text></g>
<g transform="translate(0,0) rotate(-90)"><text transform="translate(-1033.24,822.90) scale(0.655,1)" font-size="69.5">M</text><text transform="translate(-994.00,822.90) scale(0.905,1)" font-size="69.5">A</text><text transform="translate(-950.33,822.90) scale(0.828,1)" font-size="69.5">X</text><text transform="translate(-902.26,822.90) scale(1.209,1)" font-size="69.5">.</text><text transform="translate(-867.52,822.90) scale(0.951,1)" font-size="69.5">4</text><text transform="translate(-826.15,822.90) scale(0.989,1)" font-size="69.5">0</text></g>
<g transform="translate(0,0) rotate(-90)"><text transform="translate(-592.25,748.50) scale(1.079,1)" font-size="69.5">6</text></g>
<rect x="843" y="1499.8" width="4.3" height="19.1" fill="#000"/><rect x="852.8" y="1499.8" width="4.2" height="19.1" fill="#000"/>
<path d="M755.6,1555.6 L761.6,1555.6 L777,1499.4 L771,1499.4 Z" fill="#000"/>
<line x1="234.5" y1="93.8" x2="272.4" y2="46.6" stroke="#000" stroke-width="4.6"/>
<line x1="240" y1="576.2" x2="277.4" y2="528.5" stroke="#000" stroke-width="4.6"/>
<line x1="221.4" y1="731.8" x2="259.3" y2="684.5" stroke="#000" stroke-width="4.6"/>
<text transform="translate(1225.5,305.9) rotate(77)" x="0" y="24.1" font-size="69" letter-spacing="4" text-anchor="middle">20°</text>
<text transform="translate(1046.6,481.5) rotate(-56)" x="0" y="24.1" font-size="69" letter-spacing="4" text-anchor="middle">20°</text>
<g transform="translate(31.2,1646) rotate(10)"><text transform="translate(-3.93,0.00) scale(0.857,1)" font-size="50">H</text><text transform="translate(27.29,0.00) scale(0.685,1)" font-size="50">O</text><text transform="translate(57.48,0.00) scale(0.919,1)" font-size="50">T</text></g>
<g transform="translate(150,1660) rotate(-11)"><text transform="translate(0.96,5.00) scale(0.778,1)" font-size="50">C</text><text transform="translate(31.47,5.00) scale(0.774,1)" font-size="50">O</text><text transform="translate(62.47,5.00) scale(0.982,1)" font-size="50">L</text><text transform="translate(91.67,5.00) scale(0.783,1)" font-size="50">D</text></g>
</g>
</svg></body></html>
